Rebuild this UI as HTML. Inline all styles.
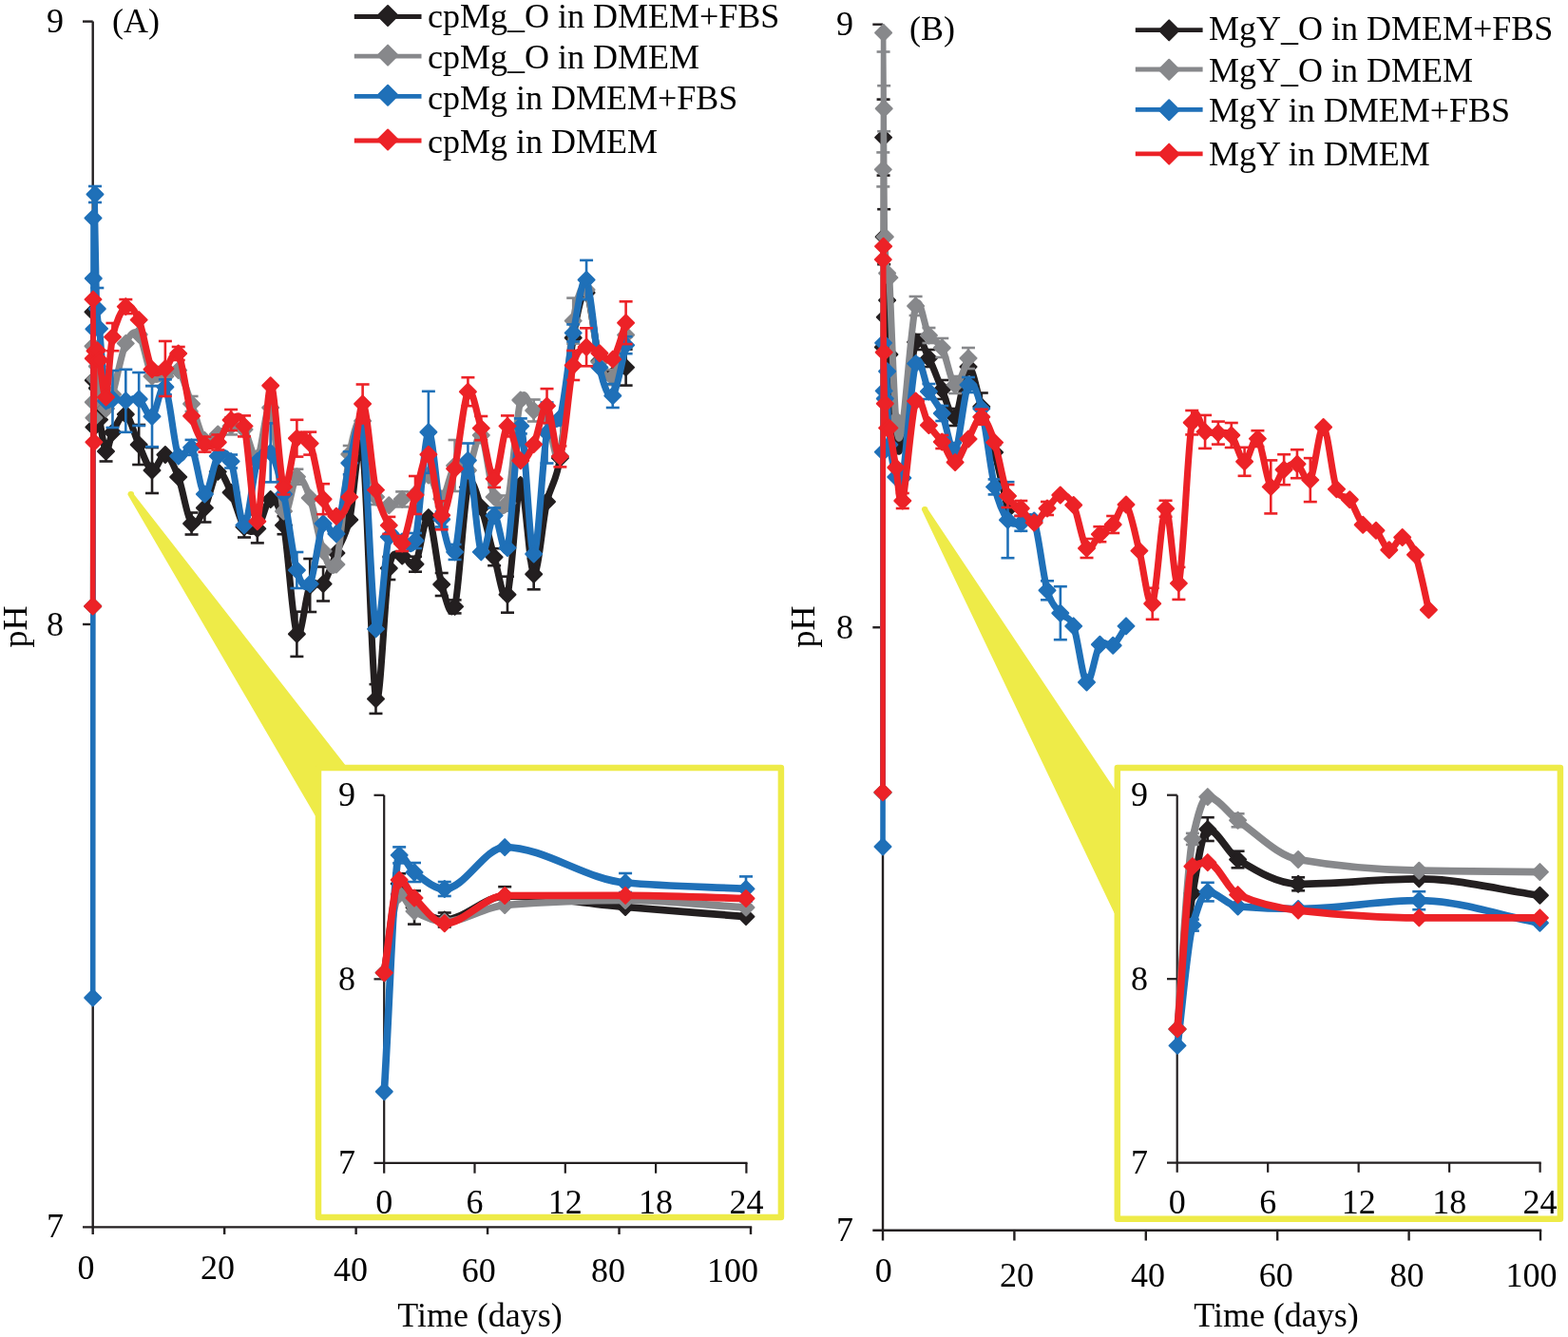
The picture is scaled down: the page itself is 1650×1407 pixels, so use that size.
<!DOCTYPE html>
<html><head><meta charset="utf-8"><title>pH vs time</title>
<style>html,body{margin:0;padding:0;background:#fff;width:1650px;height:1407px;overflow:hidden}
svg{display:block} text{font-family:"Liberation Serif", "Times New Roman", serif;fill:#000}</style></head>
<body><svg width="1650" height="1407" viewBox="0 0 1650 1407">
<line x1="97.7" y1="22.6" x2="97.7" y2="1291.4" stroke="#231f20" stroke-width="2.4" stroke-linecap="butt"/>
<line x1="87" y1="1291.4" x2="791.2" y2="1291.4" stroke="#231f20" stroke-width="2.4" stroke-linecap="butt"/>
<line x1="87" y1="22.6" x2="97.7" y2="22.6" stroke="#231f20" stroke-width="2.4" stroke-linecap="butt"/>
<line x1="87" y1="657.0" x2="97.7" y2="657.0" stroke="#231f20" stroke-width="2.4" stroke-linecap="butt"/>
<line x1="97.7" y1="1291.4" x2="97.7" y2="1299" stroke="#231f20" stroke-width="2.4" stroke-linecap="butt"/>
<line x1="236.15999999999997" y1="1291.4" x2="236.15999999999997" y2="1299" stroke="#231f20" stroke-width="2.4" stroke-linecap="butt"/>
<line x1="374.61999999999995" y1="1291.4" x2="374.61999999999995" y2="1299" stroke="#231f20" stroke-width="2.4" stroke-linecap="butt"/>
<line x1="513.0799999999999" y1="1291.4" x2="513.0799999999999" y2="1299" stroke="#231f20" stroke-width="2.4" stroke-linecap="butt"/>
<line x1="651.54" y1="1291.4" x2="651.54" y2="1299" stroke="#231f20" stroke-width="2.4" stroke-linecap="butt"/>
<line x1="790.0" y1="1291.4" x2="790.0" y2="1299" stroke="#231f20" stroke-width="2.4" stroke-linecap="butt"/>
<text x="67" y="34" font-size="36" text-anchor="end" >9</text>
<text x="67" y="669" font-size="36" text-anchor="end" >8</text>
<text x="67" y="1302" font-size="36" text-anchor="end" >7</text>
<text x="90.5" y="1346" font-size="36" text-anchor="middle" >0</text>
<text x="229" y="1346" font-size="36" text-anchor="middle" >20</text>
<text x="369" y="1348.2" font-size="36" text-anchor="middle" >40</text>
<text x="503.7" y="1348.5" font-size="36" text-anchor="middle" >60</text>
<text x="640" y="1348.5" font-size="36" text-anchor="middle" >80</text>
<text x="771" y="1348.5" font-size="36" text-anchor="middle" >100</text>
<text x="505" y="1396" font-size="36" text-anchor="middle" >Time (days)</text>
<text transform="translate(28,659.5) rotate(-90)" text-anchor="middle" font-size="36">pH</text>
<text x="118" y="34" font-size="36" text-anchor="start" >(A)</text>
<line x1="372.8" y1="17.5" x2="443.5" y2="17.5" stroke="#231f20" stroke-width="4.8" stroke-linecap="butt"/>
<path d="M408.1 6.0L418.6 16.5L408.1 27.0L397.6 16.5Z" fill="#231f20" stroke="#231f20" stroke-width="2" stroke-linejoin="round"/>
<text x="450" y="29.1" font-size="36" text-anchor="start" >cpMg_O in DMEM+FBS</text>
<line x1="372.8" y1="59.1" x2="443.5" y2="59.1" stroke="#87888b" stroke-width="4.8" stroke-linecap="butt"/>
<path d="M408.1 47.6L418.6 58.1L408.1 68.6L397.6 58.1Z" fill="#87888b" stroke="#87888b" stroke-width="2" stroke-linejoin="round"/>
<text x="450" y="72.2" font-size="36" text-anchor="start" >cpMg_O in DMEM</text>
<line x1="372.8" y1="101.3" x2="443.5" y2="101.3" stroke="#1f70b8" stroke-width="4.8" stroke-linecap="butt"/>
<path d="M408.1 89.8L418.6 100.3L408.1 110.8L397.6 100.3Z" fill="#1f70b8" stroke="#1f70b8" stroke-width="2" stroke-linejoin="round"/>
<text x="450" y="115.4" font-size="36" text-anchor="start" >cpMg in DMEM+FBS</text>
<line x1="372.8" y1="148" x2="443.5" y2="148" stroke="#ec2227" stroke-width="4.8" stroke-linecap="butt"/>
<path d="M408.1 136.5L418.6 147.0L408.1 157.5L397.6 147.0Z" fill="#ec2227" stroke="#ec2227" stroke-width="2" stroke-linejoin="round"/>
<text x="450" y="160.5" font-size="36" text-anchor="start" >cpMg in DMEM</text>
<line x1="111.55" y1="464.5" x2="111.55" y2="485.5" stroke="#231f20" stroke-width="2.6" stroke-linecap="butt"/>
<line x1="104.55" y1="464.5" x2="118.55" y2="464.5" stroke="#231f20" stroke-width="2.6" stroke-linecap="butt"/>
<line x1="104.55" y1="485.5" x2="118.55" y2="485.5" stroke="#231f20" stroke-width="2.6" stroke-linecap="butt"/>
<line x1="146.175" y1="447" x2="146.175" y2="489" stroke="#231f20" stroke-width="2.6" stroke-linecap="butt"/>
<line x1="139.175" y1="447" x2="153.175" y2="447" stroke="#231f20" stroke-width="2.6" stroke-linecap="butt"/>
<line x1="139.175" y1="489" x2="153.175" y2="489" stroke="#231f20" stroke-width="2.6" stroke-linecap="butt"/>
<line x1="160.025" y1="471" x2="160.025" y2="519" stroke="#231f20" stroke-width="2.6" stroke-linecap="butt"/>
<line x1="153.025" y1="471" x2="167.025" y2="471" stroke="#231f20" stroke-width="2.6" stroke-linecap="butt"/>
<line x1="153.025" y1="519" x2="167.025" y2="519" stroke="#231f20" stroke-width="2.6" stroke-linecap="butt"/>
<line x1="201.575" y1="539.5" x2="201.575" y2="562.5" stroke="#231f20" stroke-width="2.6" stroke-linecap="butt"/>
<line x1="194.575" y1="539.5" x2="208.575" y2="539.5" stroke="#231f20" stroke-width="2.6" stroke-linecap="butt"/>
<line x1="194.575" y1="562.5" x2="208.575" y2="562.5" stroke="#231f20" stroke-width="2.6" stroke-linecap="butt"/>
<line x1="215.425" y1="519.5" x2="215.425" y2="549.5" stroke="#231f20" stroke-width="2.6" stroke-linecap="butt"/>
<line x1="208.425" y1="519.5" x2="222.425" y2="519.5" stroke="#231f20" stroke-width="2.6" stroke-linecap="butt"/>
<line x1="208.425" y1="549.5" x2="222.425" y2="549.5" stroke="#231f20" stroke-width="2.6" stroke-linecap="butt"/>
<line x1="256.975" y1="543.5" x2="256.975" y2="565.5" stroke="#231f20" stroke-width="2.6" stroke-linecap="butt"/>
<line x1="249.97500000000002" y1="543.5" x2="263.975" y2="543.5" stroke="#231f20" stroke-width="2.6" stroke-linecap="butt"/>
<line x1="249.97500000000002" y1="565.5" x2="263.975" y2="565.5" stroke="#231f20" stroke-width="2.6" stroke-linecap="butt"/>
<line x1="270.825" y1="541.4" x2="270.825" y2="571.4" stroke="#231f20" stroke-width="2.6" stroke-linecap="butt"/>
<line x1="263.825" y1="541.4" x2="277.825" y2="541.4" stroke="#231f20" stroke-width="2.6" stroke-linecap="butt"/>
<line x1="263.825" y1="571.4" x2="277.825" y2="571.4" stroke="#231f20" stroke-width="2.6" stroke-linecap="butt"/>
<line x1="298.525" y1="543.2" x2="298.525" y2="562.2" stroke="#231f20" stroke-width="2.6" stroke-linecap="butt"/>
<line x1="291.525" y1="543.2" x2="305.525" y2="543.2" stroke="#231f20" stroke-width="2.6" stroke-linecap="butt"/>
<line x1="291.525" y1="562.2" x2="305.525" y2="562.2" stroke="#231f20" stroke-width="2.6" stroke-linecap="butt"/>
<line x1="326.225" y1="588" x2="326.225" y2="644" stroke="#231f20" stroke-width="2.6" stroke-linecap="butt"/>
<line x1="319.225" y1="588" x2="333.225" y2="588" stroke="#231f20" stroke-width="2.6" stroke-linecap="butt"/>
<line x1="319.225" y1="644" x2="333.225" y2="644" stroke="#231f20" stroke-width="2.6" stroke-linecap="butt"/>
<line x1="340.075" y1="596.5" x2="340.075" y2="632.5" stroke="#231f20" stroke-width="2.6" stroke-linecap="butt"/>
<line x1="333.075" y1="596.5" x2="347.075" y2="596.5" stroke="#231f20" stroke-width="2.6" stroke-linecap="butt"/>
<line x1="333.075" y1="632.5" x2="347.075" y2="632.5" stroke="#231f20" stroke-width="2.6" stroke-linecap="butt"/>
<line x1="312.375" y1="643.6999999999999" x2="312.375" y2="690.9" stroke="#231f20" stroke-width="2.6" stroke-linecap="butt"/>
<line x1="305.375" y1="643.6999999999999" x2="319.375" y2="643.6999999999999" stroke="#231f20" stroke-width="2.6" stroke-linecap="butt"/>
<line x1="305.375" y1="690.9" x2="319.375" y2="690.9" stroke="#231f20" stroke-width="2.6" stroke-linecap="butt"/>
<line x1="395.47499999999997" y1="720.1" x2="395.47499999999997" y2="750.9" stroke="#231f20" stroke-width="2.6" stroke-linecap="butt"/>
<line x1="388.47499999999997" y1="720.1" x2="402.47499999999997" y2="720.1" stroke="#231f20" stroke-width="2.6" stroke-linecap="butt"/>
<line x1="388.47499999999997" y1="750.9" x2="402.47499999999997" y2="750.9" stroke="#231f20" stroke-width="2.6" stroke-linecap="butt"/>
<line x1="478.575" y1="631.4" x2="478.575" y2="645.4" stroke="#231f20" stroke-width="2.6" stroke-linecap="butt"/>
<line x1="471.575" y1="631.4" x2="485.575" y2="631.4" stroke="#231f20" stroke-width="2.6" stroke-linecap="butt"/>
<line x1="471.575" y1="645.4" x2="485.575" y2="645.4" stroke="#231f20" stroke-width="2.6" stroke-linecap="butt"/>
<line x1="533.975" y1="606.7" x2="533.975" y2="644.7" stroke="#231f20" stroke-width="2.6" stroke-linecap="butt"/>
<line x1="526.975" y1="606.7" x2="540.975" y2="606.7" stroke="#231f20" stroke-width="2.6" stroke-linecap="butt"/>
<line x1="526.975" y1="644.7" x2="540.975" y2="644.7" stroke="#231f20" stroke-width="2.6" stroke-linecap="butt"/>
<line x1="561.675" y1="588.3" x2="561.675" y2="620.3" stroke="#231f20" stroke-width="2.6" stroke-linecap="butt"/>
<line x1="554.675" y1="588.3" x2="568.675" y2="588.3" stroke="#231f20" stroke-width="2.6" stroke-linecap="butt"/>
<line x1="554.675" y1="620.3" x2="568.675" y2="620.3" stroke="#231f20" stroke-width="2.6" stroke-linecap="butt"/>
<line x1="658.625" y1="367.6" x2="658.625" y2="405.6" stroke="#231f20" stroke-width="2.6" stroke-linecap="butt"/>
<line x1="651.625" y1="367.6" x2="665.625" y2="367.6" stroke="#231f20" stroke-width="2.6" stroke-linecap="butt"/>
<line x1="651.625" y1="405.6" x2="665.625" y2="405.6" stroke="#231f20" stroke-width="2.6" stroke-linecap="butt"/>
<line x1="409.325" y1="586" x2="409.325" y2="610" stroke="#231f20" stroke-width="2.6" stroke-linecap="butt"/>
<line x1="402.325" y1="586" x2="416.325" y2="586" stroke="#231f20" stroke-width="2.6" stroke-linecap="butt"/>
<line x1="402.325" y1="610" x2="416.325" y2="610" stroke="#231f20" stroke-width="2.6" stroke-linecap="butt"/>
<line x1="437.025" y1="585.7" x2="437.025" y2="601.7" stroke="#231f20" stroke-width="2.6" stroke-linecap="butt"/>
<line x1="430.025" y1="585.7" x2="444.025" y2="585.7" stroke="#231f20" stroke-width="2.6" stroke-linecap="butt"/>
<line x1="430.025" y1="601.7" x2="444.025" y2="601.7" stroke="#231f20" stroke-width="2.6" stroke-linecap="butt"/>
<line x1="464.72499999999997" y1="603" x2="464.72499999999997" y2="627" stroke="#231f20" stroke-width="2.6" stroke-linecap="butt"/>
<line x1="457.72499999999997" y1="603" x2="471.72499999999997" y2="603" stroke="#231f20" stroke-width="2.6" stroke-linecap="butt"/>
<line x1="457.72499999999997" y1="627" x2="471.72499999999997" y2="627" stroke="#231f20" stroke-width="2.6" stroke-linecap="butt"/>
<line x1="520.125" y1="577.2" x2="520.125" y2="595.2" stroke="#231f20" stroke-width="2.6" stroke-linecap="butt"/>
<line x1="513.125" y1="577.2" x2="527.125" y2="577.2" stroke="#231f20" stroke-width="2.6" stroke-linecap="butt"/>
<line x1="513.125" y1="595.2" x2="527.125" y2="595.2" stroke="#231f20" stroke-width="2.6" stroke-linecap="butt"/>
<path d="M97.7 638.0L98.0 328.2M98.0 328.2L98.3 400.3M98.3 400.3L98.9 449.5M98.9 449.5L100.0 377.4M100.0 377.4L102.3 408.5M102.3 408.5L104.6 441.6" fill="none" stroke="#231f20" stroke-width="5.6" stroke-linejoin="round" stroke-linecap="round"/>
<path d="M104.6 441.6C106.7 451.6 109.3 472.9 111.5 475.0C113.8 477.1 115.2 461.2 118.5 455.0C121.8 448.8 127.9 433.9 132.3 436.0C136.8 438.1 141.7 458.6 146.2 468.0C150.6 477.4 155.6 493.3 160.0 495.0C164.5 496.7 169.4 477.4 173.9 478.5C178.3 479.6 183.3 490.4 187.7 502.0C192.2 513.6 197.1 545.8 201.6 551.0C206.0 556.2 211.0 543.2 215.4 534.5C219.9 525.8 224.8 499.0 229.3 496.4C233.7 493.8 238.7 508.9 243.1 518.2C247.6 527.5 252.5 548.4 257.0 554.5C261.4 560.6 266.4 561.0 270.8 556.4C275.3 551.8 280.2 526.1 284.7 525.5C289.1 524.9 294.1 530.0 298.5 552.7C303.0 575.4 307.9 657.2 312.4 667.3C316.8 677.4 321.8 624.4 326.2 616.0C330.7 607.6 335.6 619.9 340.1 614.5C344.5 609.1 349.5 592.8 353.9 582.0C358.4 571.2 363.3 564.6 367.8 547.0C372.2 529.4 377.2 441.8 381.6 472.0C386.1 502.2 391.0 715.3 395.5 735.5C399.9 755.7 404.9 622.1 409.3 598.0C413.8 573.9 418.7 585.7 423.2 585.0C427.6 584.3 432.6 600.2 437.0 593.7C441.5 587.2 446.4 541.2 450.9 544.6C455.3 548.0 460.3 600.0 464.7 615.0C469.2 630.0 474.1 654.8 478.6 638.4C483.0 622.0 488.0 529.3 492.4 512.6C496.9 495.9 501.8 522.2 506.3 534.0C510.7 545.8 515.7 571.5 520.1 586.2C524.6 600.9 529.5 637.8 534.0 625.7C538.4 613.6 543.4 513.9 547.8 510.5C552.3 507.1 557.2 601.5 561.7 604.3C566.1 607.1 571.1 547.6 575.5 528.0C580.0 508.4 584.9 509.6 589.4 482.0C593.8 454.4 598.8 383.3 603.2 355.5C607.7 327.7 612.6 304.1 617.1 308.0C621.5 311.9 626.5 366.1 630.9 380.0C635.4 393.9 640.3 393.9 644.8 395.0C649.2 396.1 656.4 387.9 658.6 386.6" fill="none" stroke="#231f20" stroke-width="7.1" stroke-linejoin="round" stroke-linecap="round"/>
<path d="M97.7 629.5L106.2 638.0L97.7 646.5L89.2 638.0Z" fill="#231f20" stroke="#231f20" stroke-width="2" stroke-linejoin="round"/>
<path d="M98.0 319.7L106.5 328.2L98.0 336.7L89.5 328.2Z" fill="#231f20" stroke="#231f20" stroke-width="2" stroke-linejoin="round"/>
<path d="M98.3 391.8L106.8 400.3L98.3 408.8L89.8 400.3Z" fill="#231f20" stroke="#231f20" stroke-width="2" stroke-linejoin="round"/>
<path d="M98.9 441.0L107.4 449.5L98.9 458.0L90.4 449.5Z" fill="#231f20" stroke="#231f20" stroke-width="2" stroke-linejoin="round"/>
<path d="M100.0 368.9L108.5 377.4L100.0 385.9L91.5 377.4Z" fill="#231f20" stroke="#231f20" stroke-width="2" stroke-linejoin="round"/>
<path d="M102.3 400.0L110.8 408.5L102.3 417.0L93.8 408.5Z" fill="#231f20" stroke="#231f20" stroke-width="2" stroke-linejoin="round"/>
<path d="M104.6 433.1L113.1 441.6L104.6 450.1L96.1 441.6Z" fill="#231f20" stroke="#231f20" stroke-width="2" stroke-linejoin="round"/>
<path d="M111.5 466.5L120.0 475.0L111.5 483.5L103.0 475.0Z" fill="#231f20" stroke="#231f20" stroke-width="2" stroke-linejoin="round"/>
<path d="M118.5 446.5L127.0 455.0L118.5 463.5L110.0 455.0Z" fill="#231f20" stroke="#231f20" stroke-width="2" stroke-linejoin="round"/>
<path d="M132.3 427.5L140.8 436.0L132.3 444.5L123.8 436.0Z" fill="#231f20" stroke="#231f20" stroke-width="2" stroke-linejoin="round"/>
<path d="M146.2 459.5L154.7 468.0L146.2 476.5L137.7 468.0Z" fill="#231f20" stroke="#231f20" stroke-width="2" stroke-linejoin="round"/>
<path d="M160.0 486.5L168.5 495.0L160.0 503.5L151.5 495.0Z" fill="#231f20" stroke="#231f20" stroke-width="2" stroke-linejoin="round"/>
<path d="M173.9 470.0L182.4 478.5L173.9 487.0L165.4 478.5Z" fill="#231f20" stroke="#231f20" stroke-width="2" stroke-linejoin="round"/>
<path d="M187.7 493.5L196.2 502.0L187.7 510.5L179.2 502.0Z" fill="#231f20" stroke="#231f20" stroke-width="2" stroke-linejoin="round"/>
<path d="M201.6 542.5L210.1 551.0L201.6 559.5L193.1 551.0Z" fill="#231f20" stroke="#231f20" stroke-width="2" stroke-linejoin="round"/>
<path d="M215.4 526.0L223.9 534.5L215.4 543.0L206.9 534.5Z" fill="#231f20" stroke="#231f20" stroke-width="2" stroke-linejoin="round"/>
<path d="M229.3 487.9L237.8 496.4L229.3 504.9L220.8 496.4Z" fill="#231f20" stroke="#231f20" stroke-width="2" stroke-linejoin="round"/>
<path d="M243.1 509.7L251.6 518.2L243.1 526.7L234.6 518.2Z" fill="#231f20" stroke="#231f20" stroke-width="2" stroke-linejoin="round"/>
<path d="M257.0 546.0L265.5 554.5L257.0 563.0L248.5 554.5Z" fill="#231f20" stroke="#231f20" stroke-width="2" stroke-linejoin="round"/>
<path d="M270.8 547.9L279.3 556.4L270.8 564.9L262.3 556.4Z" fill="#231f20" stroke="#231f20" stroke-width="2" stroke-linejoin="round"/>
<path d="M284.7 517.0L293.2 525.5L284.7 534.0L276.2 525.5Z" fill="#231f20" stroke="#231f20" stroke-width="2" stroke-linejoin="round"/>
<path d="M298.5 544.2L307.0 552.7L298.5 561.2L290.0 552.7Z" fill="#231f20" stroke="#231f20" stroke-width="2" stroke-linejoin="round"/>
<path d="M312.4 658.8L320.9 667.3L312.4 675.8L303.9 667.3Z" fill="#231f20" stroke="#231f20" stroke-width="2" stroke-linejoin="round"/>
<path d="M326.2 607.5L334.7 616.0L326.2 624.5L317.7 616.0Z" fill="#231f20" stroke="#231f20" stroke-width="2" stroke-linejoin="round"/>
<path d="M340.1 606.0L348.6 614.5L340.1 623.0L331.6 614.5Z" fill="#231f20" stroke="#231f20" stroke-width="2" stroke-linejoin="round"/>
<path d="M353.9 573.5L362.4 582.0L353.9 590.5L345.4 582.0Z" fill="#231f20" stroke="#231f20" stroke-width="2" stroke-linejoin="round"/>
<path d="M367.8 538.5L376.3 547.0L367.8 555.5L359.3 547.0Z" fill="#231f20" stroke="#231f20" stroke-width="2" stroke-linejoin="round"/>
<path d="M381.6 463.5L390.1 472.0L381.6 480.5L373.1 472.0Z" fill="#231f20" stroke="#231f20" stroke-width="2" stroke-linejoin="round"/>
<path d="M395.5 727.0L404.0 735.5L395.5 744.0L387.0 735.5Z" fill="#231f20" stroke="#231f20" stroke-width="2" stroke-linejoin="round"/>
<path d="M409.3 589.5L417.8 598.0L409.3 606.5L400.8 598.0Z" fill="#231f20" stroke="#231f20" stroke-width="2" stroke-linejoin="round"/>
<path d="M423.2 576.5L431.7 585.0L423.2 593.5L414.7 585.0Z" fill="#231f20" stroke="#231f20" stroke-width="2" stroke-linejoin="round"/>
<path d="M437.0 585.2L445.5 593.7L437.0 602.2L428.5 593.7Z" fill="#231f20" stroke="#231f20" stroke-width="2" stroke-linejoin="round"/>
<path d="M450.9 536.1L459.4 544.6L450.9 553.1L442.4 544.6Z" fill="#231f20" stroke="#231f20" stroke-width="2" stroke-linejoin="round"/>
<path d="M464.7 606.5L473.2 615.0L464.7 623.5L456.2 615.0Z" fill="#231f20" stroke="#231f20" stroke-width="2" stroke-linejoin="round"/>
<path d="M478.6 629.9L487.1 638.4L478.6 646.9L470.1 638.4Z" fill="#231f20" stroke="#231f20" stroke-width="2" stroke-linejoin="round"/>
<path d="M492.4 504.1L500.9 512.6L492.4 521.1L483.9 512.6Z" fill="#231f20" stroke="#231f20" stroke-width="2" stroke-linejoin="round"/>
<path d="M506.3 525.5L514.8 534.0L506.3 542.5L497.8 534.0Z" fill="#231f20" stroke="#231f20" stroke-width="2" stroke-linejoin="round"/>
<path d="M520.1 577.7L528.6 586.2L520.1 594.7L511.6 586.2Z" fill="#231f20" stroke="#231f20" stroke-width="2" stroke-linejoin="round"/>
<path d="M534.0 617.2L542.5 625.7L534.0 634.2L525.5 625.7Z" fill="#231f20" stroke="#231f20" stroke-width="2" stroke-linejoin="round"/>
<path d="M547.8 502.0L556.3 510.5L547.8 519.0L539.3 510.5Z" fill="#231f20" stroke="#231f20" stroke-width="2" stroke-linejoin="round"/>
<path d="M561.7 595.8L570.2 604.3L561.7 612.8L553.2 604.3Z" fill="#231f20" stroke="#231f20" stroke-width="2" stroke-linejoin="round"/>
<path d="M575.5 519.5L584.0 528.0L575.5 536.5L567.0 528.0Z" fill="#231f20" stroke="#231f20" stroke-width="2" stroke-linejoin="round"/>
<path d="M589.4 473.5L597.9 482.0L589.4 490.5L580.9 482.0Z" fill="#231f20" stroke="#231f20" stroke-width="2" stroke-linejoin="round"/>
<path d="M603.2 347.0L611.7 355.5L603.2 364.0L594.7 355.5Z" fill="#231f20" stroke="#231f20" stroke-width="2" stroke-linejoin="round"/>
<path d="M617.1 299.5L625.6 308.0L617.1 316.5L608.6 308.0Z" fill="#231f20" stroke="#231f20" stroke-width="2" stroke-linejoin="round"/>
<path d="M630.9 371.5L639.4 380.0L630.9 388.5L622.4 380.0Z" fill="#231f20" stroke="#231f20" stroke-width="2" stroke-linejoin="round"/>
<path d="M644.8 386.5L653.3 395.0L644.8 403.5L636.3 395.0Z" fill="#231f20" stroke="#231f20" stroke-width="2" stroke-linejoin="round"/>
<path d="M658.6 378.1L667.1 386.6L658.6 395.1L650.1 386.6Z" fill="#231f20" stroke="#231f20" stroke-width="2" stroke-linejoin="round"/>
<line x1="312.375" y1="493.7" x2="312.375" y2="509.7" stroke="#87888b" stroke-width="2.6" stroke-linecap="butt"/>
<line x1="305.375" y1="493.7" x2="319.375" y2="493.7" stroke="#87888b" stroke-width="2.6" stroke-linecap="butt"/>
<line x1="305.375" y1="509.7" x2="319.375" y2="509.7" stroke="#87888b" stroke-width="2.6" stroke-linecap="butt"/>
<line x1="603.225" y1="313.6" x2="603.225" y2="361.6" stroke="#87888b" stroke-width="2.6" stroke-linecap="butt"/>
<line x1="596.225" y1="313.6" x2="610.225" y2="313.6" stroke="#87888b" stroke-width="2.6" stroke-linecap="butt"/>
<line x1="596.225" y1="361.6" x2="610.225" y2="361.6" stroke="#87888b" stroke-width="2.6" stroke-linecap="butt"/>
<line x1="561.675" y1="420.5" x2="561.675" y2="443.5" stroke="#87888b" stroke-width="2.6" stroke-linecap="butt"/>
<line x1="554.675" y1="420.5" x2="568.675" y2="420.5" stroke="#87888b" stroke-width="2.6" stroke-linecap="butt"/>
<line x1="554.675" y1="443.5" x2="568.675" y2="443.5" stroke="#87888b" stroke-width="2.6" stroke-linecap="butt"/>
<line x1="478.575" y1="463" x2="478.575" y2="517" stroke="#87888b" stroke-width="2.6" stroke-linecap="butt"/>
<line x1="471.575" y1="463" x2="485.575" y2="463" stroke="#87888b" stroke-width="2.6" stroke-linecap="butt"/>
<line x1="471.575" y1="517" x2="485.575" y2="517" stroke="#87888b" stroke-width="2.6" stroke-linecap="butt"/>
<line x1="506.275" y1="450" x2="506.275" y2="466" stroke="#87888b" stroke-width="2.6" stroke-linecap="butt"/>
<line x1="499.275" y1="450" x2="513.275" y2="450" stroke="#87888b" stroke-width="2.6" stroke-linecap="butt"/>
<line x1="499.275" y1="466" x2="513.275" y2="466" stroke="#87888b" stroke-width="2.6" stroke-linecap="butt"/>
<line x1="160.025" y1="386" x2="160.025" y2="406" stroke="#87888b" stroke-width="2.6" stroke-linecap="butt"/>
<line x1="153.025" y1="386" x2="167.025" y2="386" stroke="#87888b" stroke-width="2.6" stroke-linecap="butt"/>
<line x1="153.025" y1="406" x2="167.025" y2="406" stroke="#87888b" stroke-width="2.6" stroke-linecap="butt"/>
<line x1="201.575" y1="417" x2="201.575" y2="433" stroke="#87888b" stroke-width="2.6" stroke-linecap="butt"/>
<line x1="194.575" y1="417" x2="208.575" y2="417" stroke="#87888b" stroke-width="2.6" stroke-linecap="butt"/>
<line x1="194.575" y1="433" x2="208.575" y2="433" stroke="#87888b" stroke-width="2.6" stroke-linecap="butt"/>
<line x1="243.125" y1="439.4" x2="243.125" y2="457.4" stroke="#87888b" stroke-width="2.6" stroke-linecap="butt"/>
<line x1="236.125" y1="439.4" x2="250.125" y2="439.4" stroke="#87888b" stroke-width="2.6" stroke-linecap="butt"/>
<line x1="236.125" y1="457.4" x2="250.125" y2="457.4" stroke="#87888b" stroke-width="2.6" stroke-linecap="butt"/>
<line x1="367.775" y1="469" x2="367.775" y2="487" stroke="#87888b" stroke-width="2.6" stroke-linecap="butt"/>
<line x1="360.775" y1="469" x2="374.775" y2="469" stroke="#87888b" stroke-width="2.6" stroke-linecap="butt"/>
<line x1="360.775" y1="487" x2="374.775" y2="487" stroke="#87888b" stroke-width="2.6" stroke-linecap="butt"/>
<line x1="395.47499999999997" y1="515" x2="395.47499999999997" y2="531" stroke="#87888b" stroke-width="2.6" stroke-linecap="butt"/>
<line x1="388.47499999999997" y1="515" x2="402.47499999999997" y2="515" stroke="#87888b" stroke-width="2.6" stroke-linecap="butt"/>
<line x1="388.47499999999997" y1="531" x2="402.47499999999997" y2="531" stroke="#87888b" stroke-width="2.6" stroke-linecap="butt"/>
<line x1="423.17499999999995" y1="517.4" x2="423.17499999999995" y2="533.4" stroke="#87888b" stroke-width="2.6" stroke-linecap="butt"/>
<line x1="416.17499999999995" y1="517.4" x2="430.17499999999995" y2="517.4" stroke="#87888b" stroke-width="2.6" stroke-linecap="butt"/>
<line x1="416.17499999999995" y1="533.4" x2="430.17499999999995" y2="533.4" stroke="#87888b" stroke-width="2.6" stroke-linecap="butt"/>
<line x1="464.72499999999997" y1="517" x2="464.72499999999997" y2="533" stroke="#87888b" stroke-width="2.6" stroke-linecap="butt"/>
<line x1="457.72499999999997" y1="517" x2="471.72499999999997" y2="517" stroke="#87888b" stroke-width="2.6" stroke-linecap="butt"/>
<line x1="457.72499999999997" y1="533" x2="471.72499999999997" y2="533" stroke="#87888b" stroke-width="2.6" stroke-linecap="butt"/>
<line x1="533.975" y1="521.5" x2="533.975" y2="537.5" stroke="#87888b" stroke-width="2.6" stroke-linecap="butt"/>
<line x1="526.975" y1="521.5" x2="540.975" y2="521.5" stroke="#87888b" stroke-width="2.6" stroke-linecap="butt"/>
<line x1="526.975" y1="537.5" x2="540.975" y2="537.5" stroke="#87888b" stroke-width="2.6" stroke-linecap="butt"/>
<line x1="617.075" y1="296" x2="617.075" y2="314" stroke="#87888b" stroke-width="2.6" stroke-linecap="butt"/>
<line x1="610.075" y1="296" x2="624.075" y2="296" stroke="#87888b" stroke-width="2.6" stroke-linecap="butt"/>
<line x1="610.075" y1="314" x2="624.075" y2="314" stroke="#87888b" stroke-width="2.6" stroke-linecap="butt"/>
<line x1="644.775" y1="389" x2="644.775" y2="405" stroke="#87888b" stroke-width="2.6" stroke-linecap="butt"/>
<line x1="637.775" y1="389" x2="651.775" y2="389" stroke="#87888b" stroke-width="2.6" stroke-linecap="butt"/>
<line x1="637.775" y1="405" x2="651.775" y2="405" stroke="#87888b" stroke-width="2.6" stroke-linecap="butt"/>
<path d="M97.7 638.0L98.0 364.2M98.0 364.2L98.3 423.3M98.3 423.3L98.9 439.7M98.9 439.7L100.0 398.7M100.0 398.7L102.3 385.5M102.3 385.5L104.6 410.1" fill="none" stroke="#87888b" stroke-width="5.6" stroke-linejoin="round" stroke-linecap="round"/>
<path d="M104.6 410.1C106.7 416.1 109.3 429.2 111.5 430.0C113.8 430.8 115.2 426.0 118.5 415.0C121.8 404.0 127.9 371.5 132.3 361.4C136.8 351.3 141.7 346.5 146.2 352.0C150.6 357.5 155.6 389.0 160.0 396.0C164.5 403.0 169.4 397.0 173.9 396.0C178.3 395.0 183.3 385.0 187.7 389.6C192.2 394.2 197.1 413.2 201.6 425.0C206.0 436.8 211.0 458.3 215.4 463.4C219.9 468.5 224.8 459.4 229.3 457.0C233.7 454.6 238.7 449.2 243.1 448.4C247.6 447.6 252.5 446.6 257.0 452.0C261.4 457.4 266.4 485.7 270.8 482.0C275.3 478.3 280.2 420.0 284.7 429.0C289.1 438.0 294.1 526.4 298.5 538.0C303.0 549.6 307.9 503.9 312.4 501.7C316.8 499.5 321.8 511.5 326.2 524.0C330.7 536.5 335.6 568.8 340.1 580.0C344.5 591.2 349.5 610.3 353.9 594.0C358.4 577.7 363.3 502.2 367.8 478.0C372.2 453.8 377.2 435.8 381.6 443.0C386.1 450.2 391.0 508.8 395.5 523.0C399.9 537.2 404.9 531.4 409.3 531.8C413.8 532.2 418.7 527.3 423.2 525.4C427.6 523.5 432.6 524.1 437.0 520.0C441.5 515.9 446.4 499.2 450.9 500.0C455.3 500.8 460.3 526.6 464.7 525.0C469.2 523.4 474.1 494.8 478.6 490.0C483.0 485.2 488.0 500.1 492.4 495.0C496.9 489.9 501.8 453.5 506.3 458.0C510.7 462.5 515.7 511.6 520.1 523.0C524.6 534.4 529.5 545.8 534.0 529.5C538.4 513.2 543.4 436.6 547.8 421.0C552.3 405.4 557.2 429.0 561.7 432.0C566.1 435.0 571.1 432.3 575.5 440.0C580.0 447.7 584.9 496.4 589.4 480.0C593.8 463.6 598.8 365.6 603.2 337.6C607.7 309.6 612.6 298.1 617.1 305.0C621.5 311.9 626.5 366.3 630.9 381.0C635.4 395.7 640.3 401.6 644.8 397.0C649.2 392.4 656.4 359.6 658.6 352.5" fill="none" stroke="#87888b" stroke-width="7.1" stroke-linejoin="round" stroke-linecap="round"/>
<path d="M97.7 629.5L106.2 638.0L97.7 646.5L89.2 638.0Z" fill="#87888b" stroke="#87888b" stroke-width="2" stroke-linejoin="round"/>
<path d="M98.0 355.7L106.5 364.2L98.0 372.7L89.5 364.2Z" fill="#87888b" stroke="#87888b" stroke-width="2" stroke-linejoin="round"/>
<path d="M98.3 414.8L106.8 423.3L98.3 431.8L89.8 423.3Z" fill="#87888b" stroke="#87888b" stroke-width="2" stroke-linejoin="round"/>
<path d="M98.9 431.2L107.4 439.7L98.9 448.2L90.4 439.7Z" fill="#87888b" stroke="#87888b" stroke-width="2" stroke-linejoin="round"/>
<path d="M100.0 390.2L108.5 398.7L100.0 407.2L91.5 398.7Z" fill="#87888b" stroke="#87888b" stroke-width="2" stroke-linejoin="round"/>
<path d="M102.3 377.0L110.8 385.5L102.3 394.0L93.8 385.5Z" fill="#87888b" stroke="#87888b" stroke-width="2" stroke-linejoin="round"/>
<path d="M104.6 401.6L113.1 410.1L104.6 418.6L96.1 410.1Z" fill="#87888b" stroke="#87888b" stroke-width="2" stroke-linejoin="round"/>
<path d="M111.5 421.5L120.0 430.0L111.5 438.5L103.0 430.0Z" fill="#87888b" stroke="#87888b" stroke-width="2" stroke-linejoin="round"/>
<path d="M118.5 406.5L127.0 415.0L118.5 423.5L110.0 415.0Z" fill="#87888b" stroke="#87888b" stroke-width="2" stroke-linejoin="round"/>
<path d="M132.3 352.9L140.8 361.4L132.3 369.9L123.8 361.4Z" fill="#87888b" stroke="#87888b" stroke-width="2" stroke-linejoin="round"/>
<path d="M146.2 343.5L154.7 352.0L146.2 360.5L137.7 352.0Z" fill="#87888b" stroke="#87888b" stroke-width="2" stroke-linejoin="round"/>
<path d="M160.0 387.5L168.5 396.0L160.0 404.5L151.5 396.0Z" fill="#87888b" stroke="#87888b" stroke-width="2" stroke-linejoin="round"/>
<path d="M173.9 387.5L182.4 396.0L173.9 404.5L165.4 396.0Z" fill="#87888b" stroke="#87888b" stroke-width="2" stroke-linejoin="round"/>
<path d="M187.7 381.1L196.2 389.6L187.7 398.1L179.2 389.6Z" fill="#87888b" stroke="#87888b" stroke-width="2" stroke-linejoin="round"/>
<path d="M201.6 416.5L210.1 425.0L201.6 433.5L193.1 425.0Z" fill="#87888b" stroke="#87888b" stroke-width="2" stroke-linejoin="round"/>
<path d="M215.4 454.9L223.9 463.4L215.4 471.9L206.9 463.4Z" fill="#87888b" stroke="#87888b" stroke-width="2" stroke-linejoin="round"/>
<path d="M229.3 448.5L237.8 457.0L229.3 465.5L220.8 457.0Z" fill="#87888b" stroke="#87888b" stroke-width="2" stroke-linejoin="round"/>
<path d="M243.1 439.9L251.6 448.4L243.1 456.9L234.6 448.4Z" fill="#87888b" stroke="#87888b" stroke-width="2" stroke-linejoin="round"/>
<path d="M257.0 443.5L265.5 452.0L257.0 460.5L248.5 452.0Z" fill="#87888b" stroke="#87888b" stroke-width="2" stroke-linejoin="round"/>
<path d="M270.8 473.5L279.3 482.0L270.8 490.5L262.3 482.0Z" fill="#87888b" stroke="#87888b" stroke-width="2" stroke-linejoin="round"/>
<path d="M284.7 420.5L293.2 429.0L284.7 437.5L276.2 429.0Z" fill="#87888b" stroke="#87888b" stroke-width="2" stroke-linejoin="round"/>
<path d="M298.5 529.5L307.0 538.0L298.5 546.5L290.0 538.0Z" fill="#87888b" stroke="#87888b" stroke-width="2" stroke-linejoin="round"/>
<path d="M312.4 493.2L320.9 501.7L312.4 510.2L303.9 501.7Z" fill="#87888b" stroke="#87888b" stroke-width="2" stroke-linejoin="round"/>
<path d="M326.2 515.5L334.7 524.0L326.2 532.5L317.7 524.0Z" fill="#87888b" stroke="#87888b" stroke-width="2" stroke-linejoin="round"/>
<path d="M340.1 571.5L348.6 580.0L340.1 588.5L331.6 580.0Z" fill="#87888b" stroke="#87888b" stroke-width="2" stroke-linejoin="round"/>
<path d="M353.9 585.5L362.4 594.0L353.9 602.5L345.4 594.0Z" fill="#87888b" stroke="#87888b" stroke-width="2" stroke-linejoin="round"/>
<path d="M367.8 469.5L376.3 478.0L367.8 486.5L359.3 478.0Z" fill="#87888b" stroke="#87888b" stroke-width="2" stroke-linejoin="round"/>
<path d="M381.6 434.5L390.1 443.0L381.6 451.5L373.1 443.0Z" fill="#87888b" stroke="#87888b" stroke-width="2" stroke-linejoin="round"/>
<path d="M395.5 514.5L404.0 523.0L395.5 531.5L387.0 523.0Z" fill="#87888b" stroke="#87888b" stroke-width="2" stroke-linejoin="round"/>
<path d="M409.3 523.3L417.8 531.8L409.3 540.3L400.8 531.8Z" fill="#87888b" stroke="#87888b" stroke-width="2" stroke-linejoin="round"/>
<path d="M423.2 516.9L431.7 525.4L423.2 533.9L414.7 525.4Z" fill="#87888b" stroke="#87888b" stroke-width="2" stroke-linejoin="round"/>
<path d="M437.0 511.5L445.5 520.0L437.0 528.5L428.5 520.0Z" fill="#87888b" stroke="#87888b" stroke-width="2" stroke-linejoin="round"/>
<path d="M450.9 491.5L459.4 500.0L450.9 508.5L442.4 500.0Z" fill="#87888b" stroke="#87888b" stroke-width="2" stroke-linejoin="round"/>
<path d="M464.7 516.5L473.2 525.0L464.7 533.5L456.2 525.0Z" fill="#87888b" stroke="#87888b" stroke-width="2" stroke-linejoin="round"/>
<path d="M478.6 481.5L487.1 490.0L478.6 498.5L470.1 490.0Z" fill="#87888b" stroke="#87888b" stroke-width="2" stroke-linejoin="round"/>
<path d="M492.4 486.5L500.9 495.0L492.4 503.5L483.9 495.0Z" fill="#87888b" stroke="#87888b" stroke-width="2" stroke-linejoin="round"/>
<path d="M506.3 449.5L514.8 458.0L506.3 466.5L497.8 458.0Z" fill="#87888b" stroke="#87888b" stroke-width="2" stroke-linejoin="round"/>
<path d="M520.1 514.5L528.6 523.0L520.1 531.5L511.6 523.0Z" fill="#87888b" stroke="#87888b" stroke-width="2" stroke-linejoin="round"/>
<path d="M534.0 521.0L542.5 529.5L534.0 538.0L525.5 529.5Z" fill="#87888b" stroke="#87888b" stroke-width="2" stroke-linejoin="round"/>
<path d="M547.8 412.5L556.3 421.0L547.8 429.5L539.3 421.0Z" fill="#87888b" stroke="#87888b" stroke-width="2" stroke-linejoin="round"/>
<path d="M561.7 423.5L570.2 432.0L561.7 440.5L553.2 432.0Z" fill="#87888b" stroke="#87888b" stroke-width="2" stroke-linejoin="round"/>
<path d="M575.5 431.5L584.0 440.0L575.5 448.5L567.0 440.0Z" fill="#87888b" stroke="#87888b" stroke-width="2" stroke-linejoin="round"/>
<path d="M589.4 471.5L597.9 480.0L589.4 488.5L580.9 480.0Z" fill="#87888b" stroke="#87888b" stroke-width="2" stroke-linejoin="round"/>
<path d="M603.2 329.1L611.7 337.6L603.2 346.1L594.7 337.6Z" fill="#87888b" stroke="#87888b" stroke-width="2" stroke-linejoin="round"/>
<path d="M617.1 296.5L625.6 305.0L617.1 313.5L608.6 305.0Z" fill="#87888b" stroke="#87888b" stroke-width="2" stroke-linejoin="round"/>
<path d="M630.9 372.5L639.4 381.0L630.9 389.5L622.4 381.0Z" fill="#87888b" stroke="#87888b" stroke-width="2" stroke-linejoin="round"/>
<path d="M644.8 388.5L653.3 397.0L644.8 405.5L636.3 397.0Z" fill="#87888b" stroke="#87888b" stroke-width="2" stroke-linejoin="round"/>
<path d="M658.6 344.0L667.1 352.5L658.6 361.0L650.1 352.5Z" fill="#87888b" stroke="#87888b" stroke-width="2" stroke-linejoin="round"/>
<line x1="492.42499999999995" y1="466.5" x2="492.42499999999995" y2="502.5" stroke="#1f70b8" stroke-width="2.6" stroke-linecap="butt"/>
<line x1="485.42499999999995" y1="466.5" x2="499.42499999999995" y2="466.5" stroke="#1f70b8" stroke-width="2.6" stroke-linecap="butt"/>
<line x1="485.42499999999995" y1="502.5" x2="499.42499999999995" y2="502.5" stroke="#1f70b8" stroke-width="2.6" stroke-linecap="butt"/>
<line x1="575.525" y1="423.5" x2="575.525" y2="487.5" stroke="#1f70b8" stroke-width="2.6" stroke-linecap="butt"/>
<line x1="568.525" y1="423.5" x2="582.525" y2="423.5" stroke="#1f70b8" stroke-width="2.6" stroke-linecap="butt"/>
<line x1="568.525" y1="487.5" x2="582.525" y2="487.5" stroke="#1f70b8" stroke-width="2.6" stroke-linecap="butt"/>
<line x1="132.325" y1="388.8" x2="132.325" y2="454.8" stroke="#1f70b8" stroke-width="2.6" stroke-linecap="butt"/>
<line x1="125.32499999999999" y1="388.8" x2="139.325" y2="388.8" stroke="#1f70b8" stroke-width="2.6" stroke-linecap="butt"/>
<line x1="125.32499999999999" y1="454.8" x2="139.325" y2="454.8" stroke="#1f70b8" stroke-width="2.6" stroke-linecap="butt"/>
<line x1="146.175" y1="392" x2="146.175" y2="448" stroke="#1f70b8" stroke-width="2.6" stroke-linecap="butt"/>
<line x1="139.175" y1="392" x2="153.175" y2="392" stroke="#1f70b8" stroke-width="2.6" stroke-linecap="butt"/>
<line x1="139.175" y1="448" x2="153.175" y2="448" stroke="#1f70b8" stroke-width="2.6" stroke-linecap="butt"/>
<line x1="160.025" y1="406.2" x2="160.025" y2="470.2" stroke="#1f70b8" stroke-width="2.6" stroke-linecap="butt"/>
<line x1="153.025" y1="406.2" x2="167.025" y2="406.2" stroke="#1f70b8" stroke-width="2.6" stroke-linecap="butt"/>
<line x1="153.025" y1="470.2" x2="167.025" y2="470.2" stroke="#1f70b8" stroke-width="2.6" stroke-linecap="butt"/>
<line x1="118.475" y1="390" x2="118.475" y2="450" stroke="#1f70b8" stroke-width="2.6" stroke-linecap="butt"/>
<line x1="111.475" y1="390" x2="125.475" y2="390" stroke="#1f70b8" stroke-width="2.6" stroke-linecap="butt"/>
<line x1="111.475" y1="450" x2="125.475" y2="450" stroke="#1f70b8" stroke-width="2.6" stroke-linecap="butt"/>
<line x1="173.875" y1="399.3" x2="173.875" y2="415.3" stroke="#1f70b8" stroke-width="2.6" stroke-linecap="butt"/>
<line x1="166.875" y1="399.3" x2="180.875" y2="399.3" stroke="#1f70b8" stroke-width="2.6" stroke-linecap="butt"/>
<line x1="166.875" y1="415.3" x2="180.875" y2="415.3" stroke="#1f70b8" stroke-width="2.6" stroke-linecap="butt"/>
<line x1="201.575" y1="462.9" x2="201.575" y2="478.9" stroke="#1f70b8" stroke-width="2.6" stroke-linecap="butt"/>
<line x1="194.575" y1="462.9" x2="208.575" y2="462.9" stroke="#1f70b8" stroke-width="2.6" stroke-linecap="butt"/>
<line x1="194.575" y1="478.9" x2="208.575" y2="478.9" stroke="#1f70b8" stroke-width="2.6" stroke-linecap="butt"/>
<line x1="284.675" y1="445.4" x2="284.675" y2="507.4" stroke="#1f70b8" stroke-width="2.6" stroke-linecap="butt"/>
<line x1="277.675" y1="445.4" x2="291.675" y2="445.4" stroke="#1f70b8" stroke-width="2.6" stroke-linecap="butt"/>
<line x1="277.675" y1="507.4" x2="291.675" y2="507.4" stroke="#1f70b8" stroke-width="2.6" stroke-linecap="butt"/>
<line x1="312.375" y1="581" x2="312.375" y2="619" stroke="#1f70b8" stroke-width="2.6" stroke-linecap="butt"/>
<line x1="305.375" y1="581" x2="319.375" y2="581" stroke="#1f70b8" stroke-width="2.6" stroke-linecap="butt"/>
<line x1="305.375" y1="619" x2="319.375" y2="619" stroke="#1f70b8" stroke-width="2.6" stroke-linecap="butt"/>
<line x1="367.775" y1="475.3" x2="367.775" y2="499.3" stroke="#1f70b8" stroke-width="2.6" stroke-linecap="butt"/>
<line x1="360.775" y1="475.3" x2="374.775" y2="475.3" stroke="#1f70b8" stroke-width="2.6" stroke-linecap="butt"/>
<line x1="360.775" y1="499.3" x2="374.775" y2="499.3" stroke="#1f70b8" stroke-width="2.6" stroke-linecap="butt"/>
<line x1="450.875" y1="411.8" x2="450.875" y2="497.8" stroke="#1f70b8" stroke-width="2.6" stroke-linecap="butt"/>
<line x1="443.875" y1="411.8" x2="457.875" y2="411.8" stroke="#1f70b8" stroke-width="2.6" stroke-linecap="butt"/>
<line x1="443.875" y1="497.8" x2="457.875" y2="497.8" stroke="#1f70b8" stroke-width="2.6" stroke-linecap="butt"/>
<line x1="617.075" y1="273.9" x2="617.075" y2="315.1" stroke="#1f70b8" stroke-width="2.6" stroke-linecap="butt"/>
<line x1="610.075" y1="273.9" x2="624.075" y2="273.9" stroke="#1f70b8" stroke-width="2.6" stroke-linecap="butt"/>
<line x1="610.075" y1="315.1" x2="624.075" y2="315.1" stroke="#1f70b8" stroke-width="2.6" stroke-linecap="butt"/>
<line x1="644.775" y1="404.0" x2="644.775" y2="429.0" stroke="#1f70b8" stroke-width="2.6" stroke-linecap="butt"/>
<line x1="637.775" y1="404.0" x2="651.775" y2="404.0" stroke="#1f70b8" stroke-width="2.6" stroke-linecap="butt"/>
<line x1="637.775" y1="429.0" x2="651.775" y2="429.0" stroke="#1f70b8" stroke-width="2.6" stroke-linecap="butt"/>
<line x1="243.125" y1="478.5" x2="243.125" y2="492.5" stroke="#1f70b8" stroke-width="2.6" stroke-linecap="butt"/>
<line x1="236.125" y1="478.5" x2="250.125" y2="478.5" stroke="#1f70b8" stroke-width="2.6" stroke-linecap="butt"/>
<line x1="236.125" y1="492.5" x2="250.125" y2="492.5" stroke="#1f70b8" stroke-width="2.6" stroke-linecap="butt"/>
<line x1="437.025" y1="561" x2="437.025" y2="577" stroke="#1f70b8" stroke-width="2.6" stroke-linecap="butt"/>
<line x1="430.025" y1="561" x2="444.025" y2="561" stroke="#1f70b8" stroke-width="2.6" stroke-linecap="butt"/>
<line x1="430.025" y1="577" x2="444.025" y2="577" stroke="#1f70b8" stroke-width="2.6" stroke-linecap="butt"/>
<line x1="464.72499999999997" y1="538.5" x2="464.72499999999997" y2="554.5" stroke="#1f70b8" stroke-width="2.6" stroke-linecap="butt"/>
<line x1="457.72499999999997" y1="538.5" x2="471.72499999999997" y2="538.5" stroke="#1f70b8" stroke-width="2.6" stroke-linecap="butt"/>
<line x1="457.72499999999997" y1="554.5" x2="471.72499999999997" y2="554.5" stroke="#1f70b8" stroke-width="2.6" stroke-linecap="butt"/>
<line x1="547.825" y1="440.4" x2="547.825" y2="456.4" stroke="#1f70b8" stroke-width="2.6" stroke-linecap="butt"/>
<line x1="540.825" y1="440.4" x2="554.825" y2="440.4" stroke="#1f70b8" stroke-width="2.6" stroke-linecap="butt"/>
<line x1="540.825" y1="456.4" x2="554.825" y2="456.4" stroke="#1f70b8" stroke-width="2.6" stroke-linecap="butt"/>
<line x1="658.625" y1="354.2" x2="658.625" y2="372.2" stroke="#1f70b8" stroke-width="2.6" stroke-linecap="butt"/>
<line x1="651.625" y1="354.2" x2="665.625" y2="354.2" stroke="#1f70b8" stroke-width="2.6" stroke-linecap="butt"/>
<line x1="651.625" y1="372.2" x2="665.625" y2="372.2" stroke="#1f70b8" stroke-width="2.6" stroke-linecap="butt"/>
<line x1="603.225" y1="341.4" x2="603.225" y2="359.4" stroke="#1f70b8" stroke-width="2.6" stroke-linecap="butt"/>
<line x1="596.225" y1="341.4" x2="610.225" y2="341.4" stroke="#1f70b8" stroke-width="2.6" stroke-linecap="butt"/>
<line x1="596.225" y1="359.4" x2="610.225" y2="359.4" stroke="#1f70b8" stroke-width="2.6" stroke-linecap="butt"/>
<line x1="478.575" y1="572.9" x2="478.575" y2="588.9" stroke="#1f70b8" stroke-width="2.6" stroke-linecap="butt"/>
<line x1="471.575" y1="572.9" x2="485.575" y2="572.9" stroke="#1f70b8" stroke-width="2.6" stroke-linecap="butt"/>
<line x1="471.575" y1="588.9" x2="485.575" y2="588.9" stroke="#1f70b8" stroke-width="2.6" stroke-linecap="butt"/>
<line x1="520.125" y1="534.5" x2="520.125" y2="550.5" stroke="#1f70b8" stroke-width="2.6" stroke-linecap="butt"/>
<line x1="513.125" y1="534.5" x2="527.125" y2="534.5" stroke="#1f70b8" stroke-width="2.6" stroke-linecap="butt"/>
<line x1="513.125" y1="550.5" x2="527.125" y2="550.5" stroke="#1f70b8" stroke-width="2.6" stroke-linecap="butt"/>
<line x1="100.00833333333334" y1="196.0" x2="100.00833333333334" y2="213.0" stroke="#1f70b8" stroke-width="2.6" stroke-linecap="butt"/>
<line x1="93.00833333333334" y1="196.0" x2="107.00833333333334" y2="196.0" stroke="#1f70b8" stroke-width="2.6" stroke-linecap="butt"/>
<line x1="93.00833333333334" y1="213.0" x2="107.00833333333334" y2="213.0" stroke="#1f70b8" stroke-width="2.6" stroke-linecap="butt"/>
<line x1="102.31666666666666" y1="303.0" x2="102.31666666666666" y2="347.0" stroke="#1f70b8" stroke-width="2.6" stroke-linecap="butt"/>
<line x1="95.31666666666666" y1="303.0" x2="109.31666666666666" y2="303.0" stroke="#1f70b8" stroke-width="2.6" stroke-linecap="butt"/>
<line x1="95.31666666666666" y1="347.0" x2="109.31666666666666" y2="347.0" stroke="#1f70b8" stroke-width="2.6" stroke-linecap="butt"/>
<path d="M97.7 1050.0L98.0 229.5M98.0 229.5L98.3 293.0M98.3 293.0L98.9 346.2M98.9 346.2L100.0 204.5M100.0 204.5L102.3 325.0M102.3 325.0L104.6 345.9" fill="none" stroke="#1f70b8" stroke-width="5.6" stroke-linejoin="round" stroke-linecap="round"/>
<path d="M104.6 345.9C106.7 368.7 109.3 410.1 111.5 422.0C113.8 433.9 115.2 420.0 118.5 420.0C121.8 420.0 127.9 421.8 132.3 421.8C136.8 421.8 141.7 417.4 146.2 420.0C150.6 422.6 155.6 440.2 160.0 438.2C164.5 436.2 169.4 400.6 173.9 407.3C178.3 414.0 183.3 469.8 187.7 480.0C192.2 490.2 197.1 464.5 201.6 470.9C206.0 477.3 211.0 518.5 215.4 520.0C219.9 521.5 224.8 485.5 229.3 480.0C233.7 474.5 238.7 473.9 243.1 485.5C247.6 497.1 252.5 552.7 257.0 552.7C261.4 552.7 266.4 497.7 270.8 485.5C275.3 473.3 280.2 470.9 284.7 476.4C289.1 481.9 294.1 500.2 298.5 520.0C303.0 539.8 307.9 584.9 312.4 600.0C316.8 615.1 321.8 622.3 326.2 614.5C330.7 606.7 335.6 559.4 340.1 551.0C344.5 542.6 349.5 572.0 353.9 561.8C358.4 551.6 363.3 504.5 367.8 487.3C372.2 470.1 377.2 426.6 381.6 454.5C386.1 482.4 391.0 644.2 395.5 661.9C399.9 679.6 404.9 579.7 409.3 565.0C413.8 550.3 418.7 569.4 423.2 570.0C427.6 570.6 432.6 587.4 437.0 569.0C441.5 550.6 446.4 458.4 450.9 454.8C455.3 451.2 460.3 526.3 464.7 546.5C469.2 566.7 474.1 590.8 478.6 580.9C483.0 571.0 488.0 484.5 492.4 484.5C496.9 484.5 501.8 571.6 506.3 580.9C510.7 590.2 515.7 543.2 520.1 542.5C524.6 541.8 529.5 591.7 534.0 576.6C538.4 561.5 543.4 447.4 547.8 448.4C552.3 449.4 557.2 581.9 561.7 583.0C566.1 584.1 571.1 478.4 575.5 455.5C580.0 432.6 584.9 456.8 589.4 440.0C593.8 423.2 598.8 373.7 603.2 350.4C607.7 327.1 612.6 288.7 617.1 294.5C621.5 300.3 626.5 367.1 630.9 386.6C635.4 406.1 640.3 420.2 644.8 416.5C649.2 412.8 656.4 371.7 658.6 363.2" fill="none" stroke="#1f70b8" stroke-width="7.1" stroke-linejoin="round" stroke-linecap="round"/>
<path d="M97.7 1041.5L106.2 1050.0L97.7 1058.5L89.2 1050.0Z" fill="#1f70b8" stroke="#1f70b8" stroke-width="2" stroke-linejoin="round"/>
<path d="M98.0 221.0L106.5 229.5L98.0 238.0L89.5 229.5Z" fill="#1f70b8" stroke="#1f70b8" stroke-width="2" stroke-linejoin="round"/>
<path d="M98.3 284.5L106.8 293.0L98.3 301.5L89.8 293.0Z" fill="#1f70b8" stroke="#1f70b8" stroke-width="2" stroke-linejoin="round"/>
<path d="M98.9 337.7L107.4 346.2L98.9 354.7L90.4 346.2Z" fill="#1f70b8" stroke="#1f70b8" stroke-width="2" stroke-linejoin="round"/>
<path d="M100.0 196.0L108.5 204.5L100.0 213.0L91.5 204.5Z" fill="#1f70b8" stroke="#1f70b8" stroke-width="2" stroke-linejoin="round"/>
<path d="M102.3 316.5L110.8 325.0L102.3 333.5L93.8 325.0Z" fill="#1f70b8" stroke="#1f70b8" stroke-width="2" stroke-linejoin="round"/>
<path d="M104.6 337.4L113.1 345.9L104.6 354.4L96.1 345.9Z" fill="#1f70b8" stroke="#1f70b8" stroke-width="2" stroke-linejoin="round"/>
<path d="M111.5 413.5L120.0 422.0L111.5 430.5L103.0 422.0Z" fill="#1f70b8" stroke="#1f70b8" stroke-width="2" stroke-linejoin="round"/>
<path d="M118.5 411.5L127.0 420.0L118.5 428.5L110.0 420.0Z" fill="#1f70b8" stroke="#1f70b8" stroke-width="2" stroke-linejoin="round"/>
<path d="M132.3 413.3L140.8 421.8L132.3 430.3L123.8 421.8Z" fill="#1f70b8" stroke="#1f70b8" stroke-width="2" stroke-linejoin="round"/>
<path d="M146.2 411.5L154.7 420.0L146.2 428.5L137.7 420.0Z" fill="#1f70b8" stroke="#1f70b8" stroke-width="2" stroke-linejoin="round"/>
<path d="M160.0 429.7L168.5 438.2L160.0 446.7L151.5 438.2Z" fill="#1f70b8" stroke="#1f70b8" stroke-width="2" stroke-linejoin="round"/>
<path d="M173.9 398.8L182.4 407.3L173.9 415.8L165.4 407.3Z" fill="#1f70b8" stroke="#1f70b8" stroke-width="2" stroke-linejoin="round"/>
<path d="M187.7 471.5L196.2 480.0L187.7 488.5L179.2 480.0Z" fill="#1f70b8" stroke="#1f70b8" stroke-width="2" stroke-linejoin="round"/>
<path d="M201.6 462.4L210.1 470.9L201.6 479.4L193.1 470.9Z" fill="#1f70b8" stroke="#1f70b8" stroke-width="2" stroke-linejoin="round"/>
<path d="M215.4 511.5L223.9 520.0L215.4 528.5L206.9 520.0Z" fill="#1f70b8" stroke="#1f70b8" stroke-width="2" stroke-linejoin="round"/>
<path d="M229.3 471.5L237.8 480.0L229.3 488.5L220.8 480.0Z" fill="#1f70b8" stroke="#1f70b8" stroke-width="2" stroke-linejoin="round"/>
<path d="M243.1 477.0L251.6 485.5L243.1 494.0L234.6 485.5Z" fill="#1f70b8" stroke="#1f70b8" stroke-width="2" stroke-linejoin="round"/>
<path d="M257.0 544.2L265.5 552.7L257.0 561.2L248.5 552.7Z" fill="#1f70b8" stroke="#1f70b8" stroke-width="2" stroke-linejoin="round"/>
<path d="M270.8 477.0L279.3 485.5L270.8 494.0L262.3 485.5Z" fill="#1f70b8" stroke="#1f70b8" stroke-width="2" stroke-linejoin="round"/>
<path d="M284.7 467.9L293.2 476.4L284.7 484.9L276.2 476.4Z" fill="#1f70b8" stroke="#1f70b8" stroke-width="2" stroke-linejoin="round"/>
<path d="M298.5 511.5L307.0 520.0L298.5 528.5L290.0 520.0Z" fill="#1f70b8" stroke="#1f70b8" stroke-width="2" stroke-linejoin="round"/>
<path d="M312.4 591.5L320.9 600.0L312.4 608.5L303.9 600.0Z" fill="#1f70b8" stroke="#1f70b8" stroke-width="2" stroke-linejoin="round"/>
<path d="M326.2 606.0L334.7 614.5L326.2 623.0L317.7 614.5Z" fill="#1f70b8" stroke="#1f70b8" stroke-width="2" stroke-linejoin="round"/>
<path d="M340.1 542.5L348.6 551.0L340.1 559.5L331.6 551.0Z" fill="#1f70b8" stroke="#1f70b8" stroke-width="2" stroke-linejoin="round"/>
<path d="M353.9 553.3L362.4 561.8L353.9 570.3L345.4 561.8Z" fill="#1f70b8" stroke="#1f70b8" stroke-width="2" stroke-linejoin="round"/>
<path d="M367.8 478.8L376.3 487.3L367.8 495.8L359.3 487.3Z" fill="#1f70b8" stroke="#1f70b8" stroke-width="2" stroke-linejoin="round"/>
<path d="M381.6 446.0L390.1 454.5L381.6 463.0L373.1 454.5Z" fill="#1f70b8" stroke="#1f70b8" stroke-width="2" stroke-linejoin="round"/>
<path d="M395.5 653.4L404.0 661.9L395.5 670.4L387.0 661.9Z" fill="#1f70b8" stroke="#1f70b8" stroke-width="2" stroke-linejoin="round"/>
<path d="M409.3 556.5L417.8 565.0L409.3 573.5L400.8 565.0Z" fill="#1f70b8" stroke="#1f70b8" stroke-width="2" stroke-linejoin="round"/>
<path d="M423.2 561.5L431.7 570.0L423.2 578.5L414.7 570.0Z" fill="#1f70b8" stroke="#1f70b8" stroke-width="2" stroke-linejoin="round"/>
<path d="M437.0 560.5L445.5 569.0L437.0 577.5L428.5 569.0Z" fill="#1f70b8" stroke="#1f70b8" stroke-width="2" stroke-linejoin="round"/>
<path d="M450.9 446.3L459.4 454.8L450.9 463.3L442.4 454.8Z" fill="#1f70b8" stroke="#1f70b8" stroke-width="2" stroke-linejoin="round"/>
<path d="M464.7 538.0L473.2 546.5L464.7 555.0L456.2 546.5Z" fill="#1f70b8" stroke="#1f70b8" stroke-width="2" stroke-linejoin="round"/>
<path d="M478.6 572.4L487.1 580.9L478.6 589.4L470.1 580.9Z" fill="#1f70b8" stroke="#1f70b8" stroke-width="2" stroke-linejoin="round"/>
<path d="M492.4 476.0L500.9 484.5L492.4 493.0L483.9 484.5Z" fill="#1f70b8" stroke="#1f70b8" stroke-width="2" stroke-linejoin="round"/>
<path d="M506.3 572.4L514.8 580.9L506.3 589.4L497.8 580.9Z" fill="#1f70b8" stroke="#1f70b8" stroke-width="2" stroke-linejoin="round"/>
<path d="M520.1 534.0L528.6 542.5L520.1 551.0L511.6 542.5Z" fill="#1f70b8" stroke="#1f70b8" stroke-width="2" stroke-linejoin="round"/>
<path d="M534.0 568.1L542.5 576.6L534.0 585.1L525.5 576.6Z" fill="#1f70b8" stroke="#1f70b8" stroke-width="2" stroke-linejoin="round"/>
<path d="M547.8 439.9L556.3 448.4L547.8 456.9L539.3 448.4Z" fill="#1f70b8" stroke="#1f70b8" stroke-width="2" stroke-linejoin="round"/>
<path d="M561.7 574.5L570.2 583.0L561.7 591.5L553.2 583.0Z" fill="#1f70b8" stroke="#1f70b8" stroke-width="2" stroke-linejoin="round"/>
<path d="M575.5 447.0L584.0 455.5L575.5 464.0L567.0 455.5Z" fill="#1f70b8" stroke="#1f70b8" stroke-width="2" stroke-linejoin="round"/>
<path d="M589.4 431.5L597.9 440.0L589.4 448.5L580.9 440.0Z" fill="#1f70b8" stroke="#1f70b8" stroke-width="2" stroke-linejoin="round"/>
<path d="M603.2 341.9L611.7 350.4L603.2 358.9L594.7 350.4Z" fill="#1f70b8" stroke="#1f70b8" stroke-width="2" stroke-linejoin="round"/>
<path d="M617.1 286.0L625.6 294.5L617.1 303.0L608.6 294.5Z" fill="#1f70b8" stroke="#1f70b8" stroke-width="2" stroke-linejoin="round"/>
<path d="M630.9 378.1L639.4 386.6L630.9 395.1L622.4 386.6Z" fill="#1f70b8" stroke="#1f70b8" stroke-width="2" stroke-linejoin="round"/>
<path d="M644.8 408.0L653.3 416.5L644.8 425.0L636.3 416.5Z" fill="#1f70b8" stroke="#1f70b8" stroke-width="2" stroke-linejoin="round"/>
<path d="M658.6 354.7L667.1 363.2L658.6 371.7L650.1 363.2Z" fill="#1f70b8" stroke="#1f70b8" stroke-width="2" stroke-linejoin="round"/>
<line x1="437.025" y1="501" x2="437.025" y2="541" stroke="#ec2227" stroke-width="2.6" stroke-linecap="butt"/>
<line x1="430.025" y1="501" x2="444.025" y2="501" stroke="#ec2227" stroke-width="2.6" stroke-linecap="butt"/>
<line x1="430.025" y1="541" x2="444.025" y2="541" stroke="#ec2227" stroke-width="2.6" stroke-linecap="butt"/>
<line x1="464.72499999999997" y1="527.3" x2="464.72499999999997" y2="557.3" stroke="#ec2227" stroke-width="2.6" stroke-linecap="butt"/>
<line x1="457.72499999999997" y1="527.3" x2="471.72499999999997" y2="527.3" stroke="#ec2227" stroke-width="2.6" stroke-linecap="butt"/>
<line x1="457.72499999999997" y1="557.3" x2="471.72499999999997" y2="557.3" stroke="#ec2227" stroke-width="2.6" stroke-linecap="butt"/>
<line x1="589.375" y1="469.4" x2="589.375" y2="491.4" stroke="#ec2227" stroke-width="2.6" stroke-linecap="butt"/>
<line x1="582.375" y1="469.4" x2="596.375" y2="469.4" stroke="#ec2227" stroke-width="2.6" stroke-linecap="butt"/>
<line x1="582.375" y1="491.4" x2="596.375" y2="491.4" stroke="#ec2227" stroke-width="2.6" stroke-linecap="butt"/>
<line x1="118.475" y1="340.0" x2="118.475" y2="369.20000000000005" stroke="#ec2227" stroke-width="2.6" stroke-linecap="butt"/>
<line x1="111.475" y1="340.0" x2="125.475" y2="340.0" stroke="#ec2227" stroke-width="2.6" stroke-linecap="butt"/>
<line x1="111.475" y1="369.20000000000005" x2="125.475" y2="369.20000000000005" stroke="#ec2227" stroke-width="2.6" stroke-linecap="butt"/>
<line x1="132.325" y1="315.1" x2="132.325" y2="330.1" stroke="#ec2227" stroke-width="2.6" stroke-linecap="butt"/>
<line x1="125.32499999999999" y1="315.1" x2="139.325" y2="315.1" stroke="#ec2227" stroke-width="2.6" stroke-linecap="butt"/>
<line x1="125.32499999999999" y1="330.1" x2="139.325" y2="330.1" stroke="#ec2227" stroke-width="2.6" stroke-linecap="butt"/>
<line x1="173.875" y1="359" x2="173.875" y2="417" stroke="#ec2227" stroke-width="2.6" stroke-linecap="butt"/>
<line x1="166.875" y1="359" x2="180.875" y2="359" stroke="#ec2227" stroke-width="2.6" stroke-linecap="butt"/>
<line x1="166.875" y1="417" x2="180.875" y2="417" stroke="#ec2227" stroke-width="2.6" stroke-linecap="butt"/>
<line x1="187.725" y1="365" x2="187.725" y2="379" stroke="#ec2227" stroke-width="2.6" stroke-linecap="butt"/>
<line x1="180.725" y1="365" x2="194.725" y2="365" stroke="#ec2227" stroke-width="2.6" stroke-linecap="butt"/>
<line x1="180.725" y1="379" x2="194.725" y2="379" stroke="#ec2227" stroke-width="2.6" stroke-linecap="butt"/>
<line x1="243.125" y1="431" x2="243.125" y2="453" stroke="#ec2227" stroke-width="2.6" stroke-linecap="butt"/>
<line x1="236.125" y1="431" x2="250.125" y2="431" stroke="#ec2227" stroke-width="2.6" stroke-linecap="butt"/>
<line x1="236.125" y1="453" x2="250.125" y2="453" stroke="#ec2227" stroke-width="2.6" stroke-linecap="butt"/>
<line x1="256.975" y1="437.4" x2="256.975" y2="459.4" stroke="#ec2227" stroke-width="2.6" stroke-linecap="butt"/>
<line x1="249.97500000000002" y1="437.4" x2="263.975" y2="437.4" stroke="#ec2227" stroke-width="2.6" stroke-linecap="butt"/>
<line x1="249.97500000000002" y1="459.4" x2="263.975" y2="459.4" stroke="#ec2227" stroke-width="2.6" stroke-linecap="butt"/>
<line x1="312.375" y1="441.8" x2="312.375" y2="480.59999999999997" stroke="#ec2227" stroke-width="2.6" stroke-linecap="butt"/>
<line x1="305.375" y1="441.8" x2="319.375" y2="441.8" stroke="#ec2227" stroke-width="2.6" stroke-linecap="butt"/>
<line x1="305.375" y1="480.59999999999997" x2="319.375" y2="480.59999999999997" stroke="#ec2227" stroke-width="2.6" stroke-linecap="butt"/>
<line x1="326.225" y1="454.6" x2="326.225" y2="478.6" stroke="#ec2227" stroke-width="2.6" stroke-linecap="butt"/>
<line x1="319.225" y1="454.6" x2="333.225" y2="454.6" stroke="#ec2227" stroke-width="2.6" stroke-linecap="butt"/>
<line x1="319.225" y1="478.6" x2="333.225" y2="478.6" stroke="#ec2227" stroke-width="2.6" stroke-linecap="butt"/>
<line x1="340.075" y1="509.20000000000005" x2="340.075" y2="541.2" stroke="#ec2227" stroke-width="2.6" stroke-linecap="butt"/>
<line x1="333.075" y1="509.20000000000005" x2="347.075" y2="509.20000000000005" stroke="#ec2227" stroke-width="2.6" stroke-linecap="butt"/>
<line x1="333.075" y1="541.2" x2="347.075" y2="541.2" stroke="#ec2227" stroke-width="2.6" stroke-linecap="butt"/>
<line x1="381.625" y1="404.5" x2="381.625" y2="445.5" stroke="#ec2227" stroke-width="2.6" stroke-linecap="butt"/>
<line x1="374.625" y1="404.5" x2="388.625" y2="404.5" stroke="#ec2227" stroke-width="2.6" stroke-linecap="butt"/>
<line x1="374.625" y1="445.5" x2="388.625" y2="445.5" stroke="#ec2227" stroke-width="2.6" stroke-linecap="butt"/>
<line x1="492.42499999999995" y1="397.2" x2="492.42499999999995" y2="427.2" stroke="#ec2227" stroke-width="2.6" stroke-linecap="butt"/>
<line x1="485.42499999999995" y1="397.2" x2="499.42499999999995" y2="397.2" stroke="#ec2227" stroke-width="2.6" stroke-linecap="butt"/>
<line x1="485.42499999999995" y1="427.2" x2="499.42499999999995" y2="427.2" stroke="#ec2227" stroke-width="2.6" stroke-linecap="butt"/>
<line x1="506.275" y1="438.0" x2="506.275" y2="463.20000000000005" stroke="#ec2227" stroke-width="2.6" stroke-linecap="butt"/>
<line x1="499.275" y1="438.0" x2="513.275" y2="438.0" stroke="#ec2227" stroke-width="2.6" stroke-linecap="butt"/>
<line x1="499.275" y1="463.20000000000005" x2="513.275" y2="463.20000000000005" stroke="#ec2227" stroke-width="2.6" stroke-linecap="butt"/>
<line x1="533.975" y1="437.4" x2="533.975" y2="459.4" stroke="#ec2227" stroke-width="2.6" stroke-linecap="butt"/>
<line x1="526.975" y1="437.4" x2="540.975" y2="437.4" stroke="#ec2227" stroke-width="2.6" stroke-linecap="butt"/>
<line x1="526.975" y1="459.4" x2="540.975" y2="459.4" stroke="#ec2227" stroke-width="2.6" stroke-linecap="butt"/>
<line x1="575.525" y1="409.1" x2="575.525" y2="445.1" stroke="#ec2227" stroke-width="2.6" stroke-linecap="butt"/>
<line x1="568.525" y1="409.1" x2="582.525" y2="409.1" stroke="#ec2227" stroke-width="2.6" stroke-linecap="butt"/>
<line x1="568.525" y1="445.1" x2="582.525" y2="445.1" stroke="#ec2227" stroke-width="2.6" stroke-linecap="butt"/>
<line x1="617.075" y1="345.3" x2="617.075" y2="385.3" stroke="#ec2227" stroke-width="2.6" stroke-linecap="butt"/>
<line x1="610.075" y1="345.3" x2="624.075" y2="345.3" stroke="#ec2227" stroke-width="2.6" stroke-linecap="butt"/>
<line x1="610.075" y1="385.3" x2="624.075" y2="385.3" stroke="#ec2227" stroke-width="2.6" stroke-linecap="butt"/>
<line x1="658.625" y1="317.3" x2="658.625" y2="362.09999999999997" stroke="#ec2227" stroke-width="2.6" stroke-linecap="butt"/>
<line x1="651.625" y1="317.3" x2="665.625" y2="317.3" stroke="#ec2227" stroke-width="2.6" stroke-linecap="butt"/>
<line x1="651.625" y1="362.09999999999997" x2="665.625" y2="362.09999999999997" stroke="#ec2227" stroke-width="2.6" stroke-linecap="butt"/>
<line x1="603.225" y1="369.0" x2="603.225" y2="400.0" stroke="#ec2227" stroke-width="2.6" stroke-linecap="butt"/>
<line x1="596.225" y1="369.0" x2="610.225" y2="369.0" stroke="#ec2227" stroke-width="2.6" stroke-linecap="butt"/>
<line x1="596.225" y1="400.0" x2="610.225" y2="400.0" stroke="#ec2227" stroke-width="2.6" stroke-linecap="butt"/>
<line x1="215.425" y1="459.6" x2="215.425" y2="475.6" stroke="#ec2227" stroke-width="2.6" stroke-linecap="butt"/>
<line x1="208.425" y1="459.6" x2="222.425" y2="459.6" stroke="#ec2227" stroke-width="2.6" stroke-linecap="butt"/>
<line x1="208.425" y1="475.6" x2="222.425" y2="475.6" stroke="#ec2227" stroke-width="2.6" stroke-linecap="butt"/>
<line x1="229.27499999999998" y1="457.5" x2="229.27499999999998" y2="473.5" stroke="#ec2227" stroke-width="2.6" stroke-linecap="butt"/>
<line x1="222.27499999999998" y1="457.5" x2="236.27499999999998" y2="457.5" stroke="#ec2227" stroke-width="2.6" stroke-linecap="butt"/>
<line x1="222.27499999999998" y1="473.5" x2="236.27499999999998" y2="473.5" stroke="#ec2227" stroke-width="2.6" stroke-linecap="butt"/>
<line x1="409.325" y1="543.9" x2="409.325" y2="561.9" stroke="#ec2227" stroke-width="2.6" stroke-linecap="butt"/>
<line x1="402.325" y1="543.9" x2="416.325" y2="543.9" stroke="#ec2227" stroke-width="2.6" stroke-linecap="butt"/>
<line x1="402.325" y1="561.9" x2="416.325" y2="561.9" stroke="#ec2227" stroke-width="2.6" stroke-linecap="butt"/>
<line x1="423.17499999999995" y1="564" x2="423.17499999999995" y2="580" stroke="#ec2227" stroke-width="2.6" stroke-linecap="butt"/>
<line x1="416.17499999999995" y1="564" x2="430.17499999999995" y2="564" stroke="#ec2227" stroke-width="2.6" stroke-linecap="butt"/>
<line x1="416.17499999999995" y1="580" x2="430.17499999999995" y2="580" stroke="#ec2227" stroke-width="2.6" stroke-linecap="butt"/>
<line x1="520.125" y1="494.9" x2="520.125" y2="512.9" stroke="#ec2227" stroke-width="2.6" stroke-linecap="butt"/>
<line x1="513.125" y1="494.9" x2="527.125" y2="494.9" stroke="#ec2227" stroke-width="2.6" stroke-linecap="butt"/>
<line x1="513.125" y1="512.9" x2="527.125" y2="512.9" stroke="#ec2227" stroke-width="2.6" stroke-linecap="butt"/>
<line x1="298.525" y1="504.4" x2="298.525" y2="520.4" stroke="#ec2227" stroke-width="2.6" stroke-linecap="butt"/>
<line x1="291.525" y1="504.4" x2="305.525" y2="504.4" stroke="#ec2227" stroke-width="2.6" stroke-linecap="butt"/>
<line x1="291.525" y1="520.4" x2="305.525" y2="520.4" stroke="#ec2227" stroke-width="2.6" stroke-linecap="butt"/>
<path d="M97.7 638.0L98.0 315.1M98.0 315.1L98.3 377.3M98.3 377.3L98.9 465.2M98.9 465.2L100.0 369.2M100.0 369.2L102.3 368.8M102.3 368.8L104.6 379.0" fill="none" stroke="#ec2227" stroke-width="5.6" stroke-linejoin="round" stroke-linecap="round"/>
<path d="M104.6 379.0C106.7 390.7 109.3 421.9 111.5 418.0C113.8 414.1 115.2 369.9 118.5 354.6C121.8 339.3 127.9 325.5 132.3 322.6C136.8 319.7 141.7 326.0 146.2 336.6C150.6 347.2 155.6 380.5 160.0 388.7C164.5 396.9 169.4 390.7 173.9 388.0C178.3 385.3 183.3 364.0 187.7 372.0C192.2 380.0 197.1 422.5 201.6 437.8C206.0 453.1 211.0 463.2 215.4 467.6C219.9 472.0 224.8 469.6 229.3 465.5C233.7 461.4 238.7 444.7 243.1 442.0C247.6 439.3 252.5 431.3 257.0 448.4C261.4 465.5 266.4 555.5 270.8 548.7C275.3 541.9 280.2 411.6 284.7 405.8C289.1 400.0 294.1 503.5 298.5 512.4C303.0 521.3 307.9 468.5 312.4 461.2C316.8 453.9 321.8 456.4 326.2 466.6C330.7 476.8 335.6 512.9 340.1 525.2C344.5 537.5 349.5 543.6 353.9 543.3C358.4 543.0 363.3 542.0 367.8 523.1C372.2 504.2 377.2 426.2 381.6 425.0C386.1 423.8 391.0 495.1 395.5 515.6C399.9 536.1 404.9 543.9 409.3 552.9C413.8 561.9 418.7 577.1 423.2 572.0C427.6 566.9 432.6 536.0 437.0 521.0C441.5 506.0 446.4 474.9 450.9 478.3C455.3 481.7 460.3 539.9 464.7 542.3C469.2 544.7 474.1 514.0 478.6 493.2C483.0 472.4 488.0 419.0 492.4 412.2C496.9 405.4 501.8 435.9 506.3 450.6C510.7 465.3 515.7 504.3 520.1 503.9C524.6 503.5 529.5 451.5 534.0 448.4C538.4 445.3 543.4 481.6 547.8 484.7C552.3 487.8 557.2 476.8 561.7 467.6C566.1 458.4 571.1 425.1 575.5 427.1C580.0 429.1 584.9 487.2 589.4 480.4C593.8 473.6 598.8 402.9 603.2 384.5C607.7 366.1 612.6 367.3 617.1 365.3C621.5 363.3 626.5 369.7 630.9 371.7C635.4 373.7 640.3 383.2 644.8 378.1C649.2 373.0 656.4 345.8 658.6 339.7" fill="none" stroke="#ec2227" stroke-width="7.1" stroke-linejoin="round" stroke-linecap="round"/>
<path d="M97.7 629.5L106.2 638.0L97.7 646.5L89.2 638.0Z" fill="#ec2227" stroke="#ec2227" stroke-width="2" stroke-linejoin="round"/>
<path d="M98.0 306.6L106.5 315.1L98.0 323.6L89.5 315.1Z" fill="#ec2227" stroke="#ec2227" stroke-width="2" stroke-linejoin="round"/>
<path d="M98.3 368.8L106.8 377.3L98.3 385.8L89.8 377.3Z" fill="#ec2227" stroke="#ec2227" stroke-width="2" stroke-linejoin="round"/>
<path d="M98.9 456.7L107.4 465.2L98.9 473.7L90.4 465.2Z" fill="#ec2227" stroke="#ec2227" stroke-width="2" stroke-linejoin="round"/>
<path d="M100.0 360.7L108.5 369.2L100.0 377.7L91.5 369.2Z" fill="#ec2227" stroke="#ec2227" stroke-width="2" stroke-linejoin="round"/>
<path d="M102.3 360.3L110.8 368.8L102.3 377.3L93.8 368.8Z" fill="#ec2227" stroke="#ec2227" stroke-width="2" stroke-linejoin="round"/>
<path d="M104.6 370.5L113.1 379.0L104.6 387.5L96.1 379.0Z" fill="#ec2227" stroke="#ec2227" stroke-width="2" stroke-linejoin="round"/>
<path d="M111.5 409.5L120.0 418.0L111.5 426.5L103.0 418.0Z" fill="#ec2227" stroke="#ec2227" stroke-width="2" stroke-linejoin="round"/>
<path d="M118.5 346.1L127.0 354.6L118.5 363.1L110.0 354.6Z" fill="#ec2227" stroke="#ec2227" stroke-width="2" stroke-linejoin="round"/>
<path d="M132.3 314.1L140.8 322.6L132.3 331.1L123.8 322.6Z" fill="#ec2227" stroke="#ec2227" stroke-width="2" stroke-linejoin="round"/>
<path d="M146.2 328.1L154.7 336.6L146.2 345.1L137.7 336.6Z" fill="#ec2227" stroke="#ec2227" stroke-width="2" stroke-linejoin="round"/>
<path d="M160.0 380.2L168.5 388.7L160.0 397.2L151.5 388.7Z" fill="#ec2227" stroke="#ec2227" stroke-width="2" stroke-linejoin="round"/>
<path d="M173.9 379.5L182.4 388.0L173.9 396.5L165.4 388.0Z" fill="#ec2227" stroke="#ec2227" stroke-width="2" stroke-linejoin="round"/>
<path d="M187.7 363.5L196.2 372.0L187.7 380.5L179.2 372.0Z" fill="#ec2227" stroke="#ec2227" stroke-width="2" stroke-linejoin="round"/>
<path d="M201.6 429.3L210.1 437.8L201.6 446.3L193.1 437.8Z" fill="#ec2227" stroke="#ec2227" stroke-width="2" stroke-linejoin="round"/>
<path d="M215.4 459.1L223.9 467.6L215.4 476.1L206.9 467.6Z" fill="#ec2227" stroke="#ec2227" stroke-width="2" stroke-linejoin="round"/>
<path d="M229.3 457.0L237.8 465.5L229.3 474.0L220.8 465.5Z" fill="#ec2227" stroke="#ec2227" stroke-width="2" stroke-linejoin="round"/>
<path d="M243.1 433.5L251.6 442.0L243.1 450.5L234.6 442.0Z" fill="#ec2227" stroke="#ec2227" stroke-width="2" stroke-linejoin="round"/>
<path d="M257.0 439.9L265.5 448.4L257.0 456.9L248.5 448.4Z" fill="#ec2227" stroke="#ec2227" stroke-width="2" stroke-linejoin="round"/>
<path d="M270.8 540.2L279.3 548.7L270.8 557.2L262.3 548.7Z" fill="#ec2227" stroke="#ec2227" stroke-width="2" stroke-linejoin="round"/>
<path d="M284.7 397.3L293.2 405.8L284.7 414.3L276.2 405.8Z" fill="#ec2227" stroke="#ec2227" stroke-width="2" stroke-linejoin="round"/>
<path d="M298.5 503.9L307.0 512.4L298.5 520.9L290.0 512.4Z" fill="#ec2227" stroke="#ec2227" stroke-width="2" stroke-linejoin="round"/>
<path d="M312.4 452.7L320.9 461.2L312.4 469.7L303.9 461.2Z" fill="#ec2227" stroke="#ec2227" stroke-width="2" stroke-linejoin="round"/>
<path d="M326.2 458.1L334.7 466.6L326.2 475.1L317.7 466.6Z" fill="#ec2227" stroke="#ec2227" stroke-width="2" stroke-linejoin="round"/>
<path d="M340.1 516.7L348.6 525.2L340.1 533.7L331.6 525.2Z" fill="#ec2227" stroke="#ec2227" stroke-width="2" stroke-linejoin="round"/>
<path d="M353.9 534.8L362.4 543.3L353.9 551.8L345.4 543.3Z" fill="#ec2227" stroke="#ec2227" stroke-width="2" stroke-linejoin="round"/>
<path d="M367.8 514.6L376.3 523.1L367.8 531.6L359.3 523.1Z" fill="#ec2227" stroke="#ec2227" stroke-width="2" stroke-linejoin="round"/>
<path d="M381.6 416.5L390.1 425.0L381.6 433.5L373.1 425.0Z" fill="#ec2227" stroke="#ec2227" stroke-width="2" stroke-linejoin="round"/>
<path d="M395.5 507.1L404.0 515.6L395.5 524.1L387.0 515.6Z" fill="#ec2227" stroke="#ec2227" stroke-width="2" stroke-linejoin="round"/>
<path d="M409.3 544.4L417.8 552.9L409.3 561.4L400.8 552.9Z" fill="#ec2227" stroke="#ec2227" stroke-width="2" stroke-linejoin="round"/>
<path d="M423.2 563.5L431.7 572.0L423.2 580.5L414.7 572.0Z" fill="#ec2227" stroke="#ec2227" stroke-width="2" stroke-linejoin="round"/>
<path d="M437.0 512.5L445.5 521.0L437.0 529.5L428.5 521.0Z" fill="#ec2227" stroke="#ec2227" stroke-width="2" stroke-linejoin="round"/>
<path d="M450.9 469.8L459.4 478.3L450.9 486.8L442.4 478.3Z" fill="#ec2227" stroke="#ec2227" stroke-width="2" stroke-linejoin="round"/>
<path d="M464.7 533.8L473.2 542.3L464.7 550.8L456.2 542.3Z" fill="#ec2227" stroke="#ec2227" stroke-width="2" stroke-linejoin="round"/>
<path d="M478.6 484.7L487.1 493.2L478.6 501.7L470.1 493.2Z" fill="#ec2227" stroke="#ec2227" stroke-width="2" stroke-linejoin="round"/>
<path d="M492.4 403.7L500.9 412.2L492.4 420.7L483.9 412.2Z" fill="#ec2227" stroke="#ec2227" stroke-width="2" stroke-linejoin="round"/>
<path d="M506.3 442.1L514.8 450.6L506.3 459.1L497.8 450.6Z" fill="#ec2227" stroke="#ec2227" stroke-width="2" stroke-linejoin="round"/>
<path d="M520.1 495.4L528.6 503.9L520.1 512.4L511.6 503.9Z" fill="#ec2227" stroke="#ec2227" stroke-width="2" stroke-linejoin="round"/>
<path d="M534.0 439.9L542.5 448.4L534.0 456.9L525.5 448.4Z" fill="#ec2227" stroke="#ec2227" stroke-width="2" stroke-linejoin="round"/>
<path d="M547.8 476.2L556.3 484.7L547.8 493.2L539.3 484.7Z" fill="#ec2227" stroke="#ec2227" stroke-width="2" stroke-linejoin="round"/>
<path d="M561.7 459.1L570.2 467.6L561.7 476.1L553.2 467.6Z" fill="#ec2227" stroke="#ec2227" stroke-width="2" stroke-linejoin="round"/>
<path d="M575.5 418.6L584.0 427.1L575.5 435.6L567.0 427.1Z" fill="#ec2227" stroke="#ec2227" stroke-width="2" stroke-linejoin="round"/>
<path d="M589.4 471.9L597.9 480.4L589.4 488.9L580.9 480.4Z" fill="#ec2227" stroke="#ec2227" stroke-width="2" stroke-linejoin="round"/>
<path d="M603.2 376.0L611.7 384.5L603.2 393.0L594.7 384.5Z" fill="#ec2227" stroke="#ec2227" stroke-width="2" stroke-linejoin="round"/>
<path d="M617.1 356.8L625.6 365.3L617.1 373.8L608.6 365.3Z" fill="#ec2227" stroke="#ec2227" stroke-width="2" stroke-linejoin="round"/>
<path d="M630.9 363.2L639.4 371.7L630.9 380.2L622.4 371.7Z" fill="#ec2227" stroke="#ec2227" stroke-width="2" stroke-linejoin="round"/>
<path d="M644.8 369.6L653.3 378.1L644.8 386.6L636.3 378.1Z" fill="#ec2227" stroke="#ec2227" stroke-width="2" stroke-linejoin="round"/>
<path d="M658.6 331.2L667.1 339.7L658.6 348.2L650.1 339.7Z" fill="#ec2227" stroke="#ec2227" stroke-width="2" stroke-linejoin="round"/>
<path d="M134.4 520.5 A3.4 3.4 0 0 1 141.2 520.5 L366 808.5 L340 808.5 L340 858.5 L331.8 858.5 Z" fill="#eeeb48"/>
<rect x="335" y="808" width="486.9" height="472.9" fill="#fff" stroke="#eeeb48" stroke-width="6.5" stroke-linejoin="round"/>
<line x1="404.2" y1="836.8" x2="404.2" y2="1223.9" stroke="#231f20" stroke-width="2.2" stroke-linecap="butt"/>
<line x1="393.5" y1="1223.9" x2="786.5" y2="1223.9" stroke="#231f20" stroke-width="2.2" stroke-linecap="butt"/>
<line x1="393.5" y1="836.8" x2="404.2" y2="836.8" stroke="#231f20" stroke-width="2.2" stroke-linecap="butt"/>
<line x1="393.5" y1="1030.35" x2="404.2" y2="1030.35" stroke="#231f20" stroke-width="2.2" stroke-linecap="butt"/>
<line x1="404.2" y1="1223.9" x2="404.2" y2="1234.7" stroke="#231f20" stroke-width="2.2" stroke-linecap="butt"/>
<line x1="499.5" y1="1223.9" x2="499.5" y2="1234.7" stroke="#231f20" stroke-width="2.2" stroke-linecap="butt"/>
<line x1="594.8" y1="1223.9" x2="594.8" y2="1234.7" stroke="#231f20" stroke-width="2.2" stroke-linecap="butt"/>
<line x1="690.0999999999999" y1="1223.9" x2="690.0999999999999" y2="1234.7" stroke="#231f20" stroke-width="2.2" stroke-linecap="butt"/>
<line x1="785.4" y1="1223.9" x2="785.4" y2="1234.7" stroke="#231f20" stroke-width="2.2" stroke-linecap="butt"/>
<text x="374" y="848.3" font-size="36" text-anchor="end" >9</text>
<text x="374" y="1041.85" font-size="36" text-anchor="end" >8</text>
<text x="374" y="1235.4" font-size="36" text-anchor="end" >7</text>
<text x="404.2" y="1277" font-size="36" text-anchor="middle" >0</text>
<text x="499.5" y="1277" font-size="36" text-anchor="middle" >6</text>
<text x="594.8" y="1277" font-size="36" text-anchor="middle" >12</text>
<text x="690.0999999999999" y="1277" font-size="36" text-anchor="middle" >18</text>
<text x="785.4" y="1277" font-size="36" text-anchor="middle" >24</text>
<line x1="420.1625" y1="919.3" x2="420.1625" y2="940.7" stroke="#231f20" stroke-width="2.6" stroke-linecap="butt"/>
<line x1="413.1625" y1="919.3" x2="427.1625" y2="919.3" stroke="#231f20" stroke-width="2.6" stroke-linecap="butt"/>
<line x1="413.1625" y1="940.7" x2="427.1625" y2="940.7" stroke="#231f20" stroke-width="2.6" stroke-linecap="butt"/>
<line x1="436.02500000000003" y1="937.4" x2="436.02500000000003" y2="972.6" stroke="#231f20" stroke-width="2.6" stroke-linecap="butt"/>
<line x1="429.02500000000003" y1="937.4" x2="443.02500000000003" y2="937.4" stroke="#231f20" stroke-width="2.6" stroke-linecap="butt"/>
<line x1="429.02500000000003" y1="972.6" x2="443.02500000000003" y2="972.6" stroke="#231f20" stroke-width="2.6" stroke-linecap="butt"/>
<line x1="467.75" y1="960.5" x2="467.75" y2="975.5" stroke="#231f20" stroke-width="2.6" stroke-linecap="butt"/>
<line x1="460.75" y1="960.5" x2="474.75" y2="960.5" stroke="#231f20" stroke-width="2.6" stroke-linecap="butt"/>
<line x1="460.75" y1="975.5" x2="474.75" y2="975.5" stroke="#231f20" stroke-width="2.6" stroke-linecap="butt"/>
<line x1="531.2" y1="933.2" x2="531.2" y2="952.8" stroke="#231f20" stroke-width="2.6" stroke-linecap="butt"/>
<line x1="524.2" y1="933.2" x2="538.2" y2="933.2" stroke="#231f20" stroke-width="2.6" stroke-linecap="butt"/>
<line x1="524.2" y1="952.8" x2="538.2" y2="952.8" stroke="#231f20" stroke-width="2.6" stroke-linecap="butt"/>
<path d="M404.3 1023.8C409.6 992.5 414.9 930.0 420.2 930.0C425.5 930.0 430.7 951.3 436.0 955.0C446.6 962.4 457.2 968.0 467.8 968.0C488.9 968.0 510.1 943.0 531.2 943.0C573.5 943.0 615.8 950.9 658.1 954.5C700.4 958.1 742.7 961.2 785.0 964.6" fill="none" stroke="#231f20" stroke-width="7.7" stroke-linejoin="round" stroke-linecap="round"/>
<path d="M404.3 1015.3L412.8 1023.8L404.3 1032.3L395.8 1023.8Z" fill="#231f20" stroke="#231f20" stroke-width="2" stroke-linejoin="round"/>
<path d="M420.2 921.5L428.7 930.0L420.2 938.5L411.7 930.0Z" fill="#231f20" stroke="#231f20" stroke-width="2" stroke-linejoin="round"/>
<path d="M436.0 946.5L444.5 955.0L436.0 963.5L427.5 955.0Z" fill="#231f20" stroke="#231f20" stroke-width="2" stroke-linejoin="round"/>
<path d="M467.8 959.5L476.2 968.0L467.8 976.5L459.2 968.0Z" fill="#231f20" stroke="#231f20" stroke-width="2" stroke-linejoin="round"/>
<path d="M531.2 934.5L539.7 943.0L531.2 951.5L522.7 943.0Z" fill="#231f20" stroke="#231f20" stroke-width="2" stroke-linejoin="round"/>
<path d="M658.1 946.0L666.6 954.5L658.1 963.0L649.6 954.5Z" fill="#231f20" stroke="#231f20" stroke-width="2" stroke-linejoin="round"/>
<path d="M785.0 956.1L793.5 964.6L785.0 973.1L776.5 964.6Z" fill="#231f20" stroke="#231f20" stroke-width="2" stroke-linejoin="round"/>
<path d="M404.3 1023.8C409.6 996.2 414.9 941.0 420.2 941.0C425.5 941.0 430.7 956.0 436.0 959.0C446.6 965.0 457.2 970.0 467.8 970.0C488.9 970.0 510.1 954.1 531.2 952.5C573.5 949.3 615.8 947.5 658.1 947.5C700.4 947.5 742.7 952.5 785.0 955.0" fill="none" stroke="#87888b" stroke-width="7.7" stroke-linejoin="round" stroke-linecap="round"/>
<path d="M404.3 1015.3L412.8 1023.8L404.3 1032.3L395.8 1023.8Z" fill="#87888b" stroke="#87888b" stroke-width="2" stroke-linejoin="round"/>
<path d="M420.2 932.5L428.7 941.0L420.2 949.5L411.7 941.0Z" fill="#87888b" stroke="#87888b" stroke-width="2" stroke-linejoin="round"/>
<path d="M436.0 950.5L444.5 959.0L436.0 967.5L427.5 959.0Z" fill="#87888b" stroke="#87888b" stroke-width="2" stroke-linejoin="round"/>
<path d="M467.8 961.5L476.2 970.0L467.8 978.5L459.2 970.0Z" fill="#87888b" stroke="#87888b" stroke-width="2" stroke-linejoin="round"/>
<path d="M531.2 944.0L539.7 952.5L531.2 961.0L522.7 952.5Z" fill="#87888b" stroke="#87888b" stroke-width="2" stroke-linejoin="round"/>
<path d="M658.1 939.0L666.6 947.5L658.1 956.0L649.6 947.5Z" fill="#87888b" stroke="#87888b" stroke-width="2" stroke-linejoin="round"/>
<path d="M785.0 946.5L793.5 955.0L785.0 963.5L776.5 955.0Z" fill="#87888b" stroke="#87888b" stroke-width="2" stroke-linejoin="round"/>
<line x1="420.1625" y1="891.4" x2="420.1625" y2="908.4" stroke="#1f70b8" stroke-width="2.6" stroke-linecap="butt"/>
<line x1="413.1625" y1="891.4" x2="427.1625" y2="891.4" stroke="#1f70b8" stroke-width="2.6" stroke-linecap="butt"/>
<line x1="413.1625" y1="908.4" x2="427.1625" y2="908.4" stroke="#1f70b8" stroke-width="2.6" stroke-linecap="butt"/>
<line x1="436.02500000000003" y1="908" x2="436.02500000000003" y2="928" stroke="#1f70b8" stroke-width="2.6" stroke-linecap="butt"/>
<line x1="429.02500000000003" y1="908" x2="443.02500000000003" y2="908" stroke="#1f70b8" stroke-width="2.6" stroke-linecap="butt"/>
<line x1="429.02500000000003" y1="928" x2="443.02500000000003" y2="928" stroke="#1f70b8" stroke-width="2.6" stroke-linecap="butt"/>
<line x1="467.75" y1="928.0" x2="467.75" y2="943.0" stroke="#1f70b8" stroke-width="2.6" stroke-linecap="butt"/>
<line x1="460.75" y1="928.0" x2="474.75" y2="928.0" stroke="#1f70b8" stroke-width="2.6" stroke-linecap="butt"/>
<line x1="460.75" y1="943.0" x2="474.75" y2="943.0" stroke="#1f70b8" stroke-width="2.6" stroke-linecap="butt"/>
<line x1="658.1" y1="919" x2="658.1" y2="939" stroke="#1f70b8" stroke-width="2.6" stroke-linecap="butt"/>
<line x1="651.1" y1="919" x2="665.1" y2="919" stroke="#1f70b8" stroke-width="2.6" stroke-linecap="butt"/>
<line x1="651.1" y1="939" x2="665.1" y2="939" stroke="#1f70b8" stroke-width="2.6" stroke-linecap="butt"/>
<line x1="785.0" y1="922.4" x2="785.0" y2="948.4" stroke="#1f70b8" stroke-width="2.6" stroke-linecap="butt"/>
<line x1="778.0" y1="922.4" x2="792.0" y2="922.4" stroke="#1f70b8" stroke-width="2.6" stroke-linecap="butt"/>
<line x1="778.0" y1="948.4" x2="792.0" y2="948.4" stroke="#1f70b8" stroke-width="2.6" stroke-linecap="butt"/>
<path d="M404.3 1148.8C409.6 1065.8 414.9 899.9 420.2 899.9C425.5 899.9 430.7 913.9 436.0 918.0C446.6 926.2 457.2 935.5 467.8 935.5C488.9 935.5 510.1 891.6 531.2 891.6C573.5 891.6 615.8 925.4 658.1 929.0C700.4 932.6 742.7 933.3 785.0 935.4" fill="none" stroke="#1f70b8" stroke-width="7.7" stroke-linejoin="round" stroke-linecap="round"/>
<path d="M404.3 1140.3L412.8 1148.8L404.3 1157.3L395.8 1148.8Z" fill="#1f70b8" stroke="#1f70b8" stroke-width="2" stroke-linejoin="round"/>
<path d="M420.2 891.4L428.7 899.9L420.2 908.4L411.7 899.9Z" fill="#1f70b8" stroke="#1f70b8" stroke-width="2" stroke-linejoin="round"/>
<path d="M436.0 909.5L444.5 918.0L436.0 926.5L427.5 918.0Z" fill="#1f70b8" stroke="#1f70b8" stroke-width="2" stroke-linejoin="round"/>
<path d="M467.8 927.0L476.2 935.5L467.8 944.0L459.2 935.5Z" fill="#1f70b8" stroke="#1f70b8" stroke-width="2" stroke-linejoin="round"/>
<path d="M531.2 883.1L539.7 891.6L531.2 900.1L522.7 891.6Z" fill="#1f70b8" stroke="#1f70b8" stroke-width="2" stroke-linejoin="round"/>
<path d="M658.1 920.5L666.6 929.0L658.1 937.5L649.6 929.0Z" fill="#1f70b8" stroke="#1f70b8" stroke-width="2" stroke-linejoin="round"/>
<path d="M785.0 926.9L793.5 935.4L785.0 943.9L776.5 935.4Z" fill="#1f70b8" stroke="#1f70b8" stroke-width="2" stroke-linejoin="round"/>
<path d="M404.3 1023.8C409.6 991.2 414.9 926.0 420.2 926.0C425.5 926.0 430.7 939.7 436.0 945.0C446.6 955.7 457.2 971.8 467.8 971.8C488.9 971.8 510.1 942.5 531.2 942.5C573.5 942.4 615.8 942.4 658.1 942.4C700.4 942.4 742.7 944.5 785.0 945.5" fill="none" stroke="#ec2227" stroke-width="7.7" stroke-linejoin="round" stroke-linecap="round"/>
<path d="M404.3 1015.3L412.8 1023.8L404.3 1032.3L395.8 1023.8Z" fill="#ec2227" stroke="#ec2227" stroke-width="2" stroke-linejoin="round"/>
<path d="M420.2 917.5L428.7 926.0L420.2 934.5L411.7 926.0Z" fill="#ec2227" stroke="#ec2227" stroke-width="2" stroke-linejoin="round"/>
<path d="M436.0 936.5L444.5 945.0L436.0 953.5L427.5 945.0Z" fill="#ec2227" stroke="#ec2227" stroke-width="2" stroke-linejoin="round"/>
<path d="M467.8 963.3L476.2 971.8L467.8 980.3L459.2 971.8Z" fill="#ec2227" stroke="#ec2227" stroke-width="2" stroke-linejoin="round"/>
<path d="M531.2 934.0L539.7 942.5L531.2 951.0L522.7 942.5Z" fill="#ec2227" stroke="#ec2227" stroke-width="2" stroke-linejoin="round"/>
<path d="M658.1 933.9L666.6 942.4L658.1 950.9L649.6 942.4Z" fill="#ec2227" stroke="#ec2227" stroke-width="2" stroke-linejoin="round"/>
<path d="M785.0 937.0L793.5 945.5L785.0 954.0L776.5 945.5Z" fill="#ec2227" stroke="#ec2227" stroke-width="2" stroke-linejoin="round"/>
<line x1="929" y1="25.7" x2="929" y2="1294.8" stroke="#231f20" stroke-width="2.4" stroke-linecap="butt"/>
<line x1="918.3" y1="1294.8" x2="1622.2" y2="1294.8" stroke="#231f20" stroke-width="2.4" stroke-linecap="butt"/>
<line x1="918.3" y1="25.7" x2="929" y2="25.7" stroke="#231f20" stroke-width="2.4" stroke-linecap="butt"/>
<line x1="918.3" y1="660.25" x2="929" y2="660.25" stroke="#231f20" stroke-width="2.4" stroke-linecap="butt"/>
<line x1="929.0" y1="1294.8" x2="929.0" y2="1305.5" stroke="#231f20" stroke-width="2.4" stroke-linecap="butt"/>
<line x1="1067.4" y1="1294.8" x2="1067.4" y2="1305.5" stroke="#231f20" stroke-width="2.4" stroke-linecap="butt"/>
<line x1="1205.8" y1="1294.8" x2="1205.8" y2="1305.5" stroke="#231f20" stroke-width="2.4" stroke-linecap="butt"/>
<line x1="1344.2" y1="1294.8" x2="1344.2" y2="1305.5" stroke="#231f20" stroke-width="2.4" stroke-linecap="butt"/>
<line x1="1482.6" y1="1294.8" x2="1482.6" y2="1305.5" stroke="#231f20" stroke-width="2.4" stroke-linecap="butt"/>
<line x1="1621.0" y1="1294.8" x2="1621.0" y2="1305.5" stroke="#231f20" stroke-width="2.4" stroke-linecap="butt"/>
<text x="898" y="37" font-size="36" text-anchor="end" >9</text>
<text x="898" y="672" font-size="36" text-anchor="end" >8</text>
<text x="898" y="1306" font-size="36" text-anchor="end" >7</text>
<text x="929.7" y="1348.6" font-size="36" text-anchor="middle" >0</text>
<text x="1070" y="1353.5" font-size="36" text-anchor="middle" >20</text>
<text x="1208" y="1353.5" font-size="36" text-anchor="middle" >40</text>
<text x="1342.8" y="1353.5" font-size="36" text-anchor="middle" >60</text>
<text x="1480.4" y="1353.5" font-size="36" text-anchor="middle" >80</text>
<text x="1611.5" y="1353.5" font-size="36" text-anchor="middle" >100</text>
<text x="1343" y="1396" font-size="36" text-anchor="middle" >Time (days)</text>
<text transform="translate(857,659.5) rotate(-90)" text-anchor="middle" font-size="36">pH</text>
<text x="957" y="41.5" font-size="36" text-anchor="start" >(B)</text>
<line x1="1194.8" y1="31.6" x2="1265.6" y2="31.6" stroke="#231f20" stroke-width="4.8" stroke-linecap="butt"/>
<path d="M1230.2 21.4L1240.7 31.9L1230.2 42.4L1219.7 31.9Z" fill="#231f20" stroke="#231f20" stroke-width="2" stroke-linejoin="round"/>
<text x="1272" y="42" font-size="36" text-anchor="start" >MgY_O in DMEM+FBS</text>
<line x1="1194.8" y1="73" x2="1265.6" y2="73" stroke="#87888b" stroke-width="4.8" stroke-linecap="butt"/>
<path d="M1230.2 62.8L1240.7 73.3L1230.2 83.8L1219.7 73.3Z" fill="#87888b" stroke="#87888b" stroke-width="2" stroke-linejoin="round"/>
<text x="1272" y="85.6" font-size="36" text-anchor="start" >MgY_O in DMEM</text>
<line x1="1194.8" y1="115.4" x2="1265.6" y2="115.4" stroke="#1f70b8" stroke-width="4.8" stroke-linecap="butt"/>
<path d="M1230.2 105.2L1240.7 115.7L1230.2 126.2L1219.7 115.7Z" fill="#1f70b8" stroke="#1f70b8" stroke-width="2" stroke-linejoin="round"/>
<text x="1272" y="127.5" font-size="36" text-anchor="start" >MgY in DMEM+FBS</text>
<line x1="1194.8" y1="161.8" x2="1265.6" y2="161.8" stroke="#ec2227" stroke-width="4.8" stroke-linecap="butt"/>
<path d="M1230.2 151.6L1240.7 162.1L1230.2 172.6L1219.7 162.1Z" fill="#ec2227" stroke="#ec2227" stroke-width="2" stroke-linejoin="round"/>
<text x="1272" y="173.5" font-size="36" text-anchor="start" >MgY in DMEM</text>
<line x1="929.5766666666667" y1="104.6" x2="929.5766666666667" y2="184.6" stroke="#231f20" stroke-width="2.6" stroke-linecap="butt"/>
<line x1="922.5766666666667" y1="104.6" x2="936.5766666666667" y2="104.6" stroke="#231f20" stroke-width="2.6" stroke-linecap="butt"/>
<line x1="922.5766666666667" y1="184.6" x2="936.5766666666667" y2="184.6" stroke="#231f20" stroke-width="2.6" stroke-linecap="butt"/>
<line x1="930.1533333333333" y1="220.2" x2="930.1533333333333" y2="278.2" stroke="#231f20" stroke-width="2.6" stroke-linecap="butt"/>
<line x1="923.1533333333333" y1="220.2" x2="937.1533333333333" y2="220.2" stroke="#231f20" stroke-width="2.6" stroke-linecap="butt"/>
<line x1="923.1533333333333" y1="278.2" x2="937.1533333333333" y2="278.2" stroke="#231f20" stroke-width="2.6" stroke-linecap="butt"/>
<line x1="1032.8" y1="413.5" x2="1032.8" y2="442.5" stroke="#231f20" stroke-width="2.6" stroke-linecap="butt"/>
<line x1="1025.8" y1="413.5" x2="1039.8" y2="413.5" stroke="#231f20" stroke-width="2.6" stroke-linecap="butt"/>
<line x1="1025.8" y1="442.5" x2="1039.8" y2="442.5" stroke="#231f20" stroke-width="2.6" stroke-linecap="butt"/>
<line x1="991.28" y1="400" x2="991.28" y2="420" stroke="#231f20" stroke-width="2.6" stroke-linecap="butt"/>
<line x1="984.28" y1="400" x2="998.28" y2="400" stroke="#231f20" stroke-width="2.6" stroke-linecap="butt"/>
<line x1="984.28" y1="420" x2="998.28" y2="420" stroke="#231f20" stroke-width="2.6" stroke-linecap="butt"/>
<line x1="1005.12" y1="430" x2="1005.12" y2="448" stroke="#231f20" stroke-width="2.6" stroke-linecap="butt"/>
<line x1="998.12" y1="430" x2="1012.12" y2="430" stroke="#231f20" stroke-width="2.6" stroke-linecap="butt"/>
<line x1="998.12" y1="448" x2="1012.12" y2="448" stroke="#231f20" stroke-width="2.6" stroke-linecap="butt"/>
<line x1="1018.96" y1="378" x2="1018.96" y2="394" stroke="#231f20" stroke-width="2.6" stroke-linecap="butt"/>
<line x1="1011.96" y1="378" x2="1025.96" y2="378" stroke="#231f20" stroke-width="2.6" stroke-linecap="butt"/>
<line x1="1011.96" y1="394" x2="1025.96" y2="394" stroke="#231f20" stroke-width="2.6" stroke-linecap="butt"/>
<line x1="977.44" y1="368" x2="977.44" y2="386" stroke="#231f20" stroke-width="2.6" stroke-linecap="butt"/>
<line x1="970.44" y1="368" x2="984.44" y2="368" stroke="#231f20" stroke-width="2.6" stroke-linecap="butt"/>
<line x1="970.44" y1="386" x2="984.44" y2="386" stroke="#231f20" stroke-width="2.6" stroke-linecap="butt"/>
<line x1="949.76" y1="453" x2="949.76" y2="471" stroke="#231f20" stroke-width="2.6" stroke-linecap="butt"/>
<line x1="942.76" y1="453" x2="956.76" y2="453" stroke="#231f20" stroke-width="2.6" stroke-linecap="butt"/>
<line x1="942.76" y1="471" x2="956.76" y2="471" stroke="#231f20" stroke-width="2.6" stroke-linecap="butt"/>
<line x1="963.6" y1="352" x2="963.6" y2="368" stroke="#231f20" stroke-width="2.6" stroke-linecap="butt"/>
<line x1="956.6" y1="352" x2="970.6" y2="352" stroke="#231f20" stroke-width="2.6" stroke-linecap="butt"/>
<line x1="956.6" y1="368" x2="970.6" y2="368" stroke="#231f20" stroke-width="2.6" stroke-linecap="butt"/>
<line x1="1046.64" y1="468" x2="1046.64" y2="484" stroke="#231f20" stroke-width="2.6" stroke-linecap="butt"/>
<line x1="1039.64" y1="468" x2="1053.64" y2="468" stroke="#231f20" stroke-width="2.6" stroke-linecap="butt"/>
<line x1="1039.64" y1="484" x2="1053.64" y2="484" stroke="#231f20" stroke-width="2.6" stroke-linecap="butt"/>
<path d="M929.0 834.0L929.3 365.4M929.3 365.4L929.6 144.6M929.6 144.6L930.2 249.2M930.2 249.2L931.3 333.7M931.3 333.7L933.6 316.0M933.6 316.0L935.9 373.0" fill="none" stroke="#231f20" stroke-width="5.6" stroke-linejoin="round" stroke-linecap="round"/>
<path d="M935.9 373.0C938.0 400.6 940.6 450.8 942.8 465.0C945.1 479.2 946.4 478.8 949.8 462.0C953.1 445.2 959.2 373.6 963.6 360.0C968.0 346.4 973.0 369.0 977.4 377.0C981.9 385.0 986.9 400.1 991.3 410.0C995.7 419.9 1000.7 442.8 1005.1 439.0C1009.5 435.2 1014.5 387.8 1019.0 386.0C1023.4 384.2 1028.4 413.6 1032.8 428.0C1037.2 442.4 1042.2 458.7 1046.6 476.0C1051.1 493.3 1058.3 526.4 1060.5 536.0" fill="none" stroke="#231f20" stroke-width="7.1" stroke-linejoin="round" stroke-linecap="round"/>
<path d="M929.0 825.5L937.5 834.0L929.0 842.5L920.5 834.0Z" fill="#231f20" stroke="#231f20" stroke-width="2" stroke-linejoin="round"/>
<path d="M929.3 356.9L937.8 365.4L929.3 373.9L920.8 365.4Z" fill="#231f20" stroke="#231f20" stroke-width="2" stroke-linejoin="round"/>
<path d="M929.6 136.1L938.1 144.6L929.6 153.1L921.1 144.6Z" fill="#231f20" stroke="#231f20" stroke-width="2" stroke-linejoin="round"/>
<path d="M930.2 240.7L938.7 249.2L930.2 257.7L921.7 249.2Z" fill="#231f20" stroke="#231f20" stroke-width="2" stroke-linejoin="round"/>
<path d="M931.3 325.2L939.8 333.7L931.3 342.2L922.8 333.7Z" fill="#231f20" stroke="#231f20" stroke-width="2" stroke-linejoin="round"/>
<path d="M933.6 307.5L942.1 316.0L933.6 324.5L925.1 316.0Z" fill="#231f20" stroke="#231f20" stroke-width="2" stroke-linejoin="round"/>
<path d="M935.9 364.5L944.4 373.0L935.9 381.5L927.4 373.0Z" fill="#231f20" stroke="#231f20" stroke-width="2" stroke-linejoin="round"/>
<path d="M942.8 456.5L951.3 465.0L942.8 473.5L934.3 465.0Z" fill="#231f20" stroke="#231f20" stroke-width="2" stroke-linejoin="round"/>
<path d="M949.8 453.5L958.3 462.0L949.8 470.5L941.3 462.0Z" fill="#231f20" stroke="#231f20" stroke-width="2" stroke-linejoin="round"/>
<path d="M963.6 351.5L972.1 360.0L963.6 368.5L955.1 360.0Z" fill="#231f20" stroke="#231f20" stroke-width="2" stroke-linejoin="round"/>
<path d="M977.4 368.5L985.9 377.0L977.4 385.5L968.9 377.0Z" fill="#231f20" stroke="#231f20" stroke-width="2" stroke-linejoin="round"/>
<path d="M991.3 401.5L999.8 410.0L991.3 418.5L982.8 410.0Z" fill="#231f20" stroke="#231f20" stroke-width="2" stroke-linejoin="round"/>
<path d="M1005.1 430.5L1013.6 439.0L1005.1 447.5L996.6 439.0Z" fill="#231f20" stroke="#231f20" stroke-width="2" stroke-linejoin="round"/>
<path d="M1019.0 377.5L1027.5 386.0L1019.0 394.5L1010.5 386.0Z" fill="#231f20" stroke="#231f20" stroke-width="2" stroke-linejoin="round"/>
<path d="M1032.8 419.5L1041.3 428.0L1032.8 436.5L1024.3 428.0Z" fill="#231f20" stroke="#231f20" stroke-width="2" stroke-linejoin="round"/>
<path d="M1046.6 467.5L1055.1 476.0L1046.6 484.5L1038.1 476.0Z" fill="#231f20" stroke="#231f20" stroke-width="2" stroke-linejoin="round"/>
<path d="M1060.5 527.5L1069.0 536.0L1060.5 544.5L1052.0 536.0Z" fill="#231f20" stroke="#231f20" stroke-width="2" stroke-linejoin="round"/>
<line x1="929.5766666666667" y1="25.7" x2="929.5766666666667" y2="54.5" stroke="#87888b" stroke-width="2.6" stroke-linecap="butt"/>
<line x1="922.5766666666667" y1="54.5" x2="936.5766666666667" y2="54.5" stroke="#87888b" stroke-width="2.6" stroke-linecap="butt"/>
<line x1="930.1533333333333" y1="90.2" x2="930.1533333333333" y2="138.2" stroke="#87888b" stroke-width="2.6" stroke-linecap="butt"/>
<line x1="923.1533333333333" y1="90.2" x2="937.1533333333333" y2="90.2" stroke="#87888b" stroke-width="2.6" stroke-linecap="butt"/>
<line x1="923.1533333333333" y1="138.2" x2="937.1533333333333" y2="138.2" stroke="#87888b" stroke-width="2.6" stroke-linecap="butt"/>
<line x1="929.2883333333333" y1="160.4" x2="929.2883333333333" y2="196.4" stroke="#87888b" stroke-width="2.6" stroke-linecap="butt"/>
<line x1="922.2883333333333" y1="160.4" x2="936.2883333333333" y2="160.4" stroke="#87888b" stroke-width="2.6" stroke-linecap="butt"/>
<line x1="922.2883333333333" y1="196.4" x2="936.2883333333333" y2="196.4" stroke="#87888b" stroke-width="2.6" stroke-linecap="butt"/>
<line x1="963.6" y1="312" x2="963.6" y2="332" stroke="#87888b" stroke-width="2.6" stroke-linecap="butt"/>
<line x1="956.6" y1="312" x2="970.6" y2="312" stroke="#87888b" stroke-width="2.6" stroke-linecap="butt"/>
<line x1="956.6" y1="332" x2="970.6" y2="332" stroke="#87888b" stroke-width="2.6" stroke-linecap="butt"/>
<line x1="991.28" y1="356" x2="991.28" y2="376" stroke="#87888b" stroke-width="2.6" stroke-linecap="butt"/>
<line x1="984.28" y1="356" x2="998.28" y2="356" stroke="#87888b" stroke-width="2.6" stroke-linecap="butt"/>
<line x1="984.28" y1="376" x2="998.28" y2="376" stroke="#87888b" stroke-width="2.6" stroke-linecap="butt"/>
<line x1="1018.96" y1="366" x2="1018.96" y2="388" stroke="#87888b" stroke-width="2.6" stroke-linecap="butt"/>
<line x1="1011.96" y1="366" x2="1025.96" y2="366" stroke="#87888b" stroke-width="2.6" stroke-linecap="butt"/>
<line x1="1011.96" y1="388" x2="1025.96" y2="388" stroke="#87888b" stroke-width="2.6" stroke-linecap="butt"/>
<line x1="1005.12" y1="396" x2="1005.12" y2="414" stroke="#87888b" stroke-width="2.6" stroke-linecap="butt"/>
<line x1="998.12" y1="396" x2="1012.12" y2="396" stroke="#87888b" stroke-width="2.6" stroke-linecap="butt"/>
<line x1="998.12" y1="414" x2="1012.12" y2="414" stroke="#87888b" stroke-width="2.6" stroke-linecap="butt"/>
<line x1="949.76" y1="438" x2="949.76" y2="456" stroke="#87888b" stroke-width="2.6" stroke-linecap="butt"/>
<line x1="942.76" y1="438" x2="956.76" y2="438" stroke="#87888b" stroke-width="2.6" stroke-linecap="butt"/>
<line x1="942.76" y1="456" x2="956.76" y2="456" stroke="#87888b" stroke-width="2.6" stroke-linecap="butt"/>
<line x1="977.44" y1="345" x2="977.44" y2="361" stroke="#87888b" stroke-width="2.6" stroke-linecap="butt"/>
<line x1="970.44" y1="345" x2="984.44" y2="345" stroke="#87888b" stroke-width="2.6" stroke-linecap="butt"/>
<line x1="970.44" y1="361" x2="984.44" y2="361" stroke="#87888b" stroke-width="2.6" stroke-linecap="butt"/>
<path d="M929.0 834.0L929.3 178.4M929.3 178.4L929.6 34.5M929.6 34.5L930.2 114.2M930.2 114.2L931.3 249.2M931.3 249.2L933.6 287.5M933.6 287.5L935.9 292.1" fill="none" stroke="#87888b" stroke-width="5.6" stroke-linejoin="round" stroke-linecap="round"/>
<path d="M935.9 292.1C938.0 337.1 940.6 417.2 942.8 442.0C945.1 466.8 946.4 466.2 949.8 447.0C953.1 427.8 959.2 337.0 963.6 322.0C968.0 307.0 973.0 346.0 977.4 353.0C981.9 360.0 986.9 357.7 991.3 366.0C995.7 374.3 1000.7 403.2 1005.1 405.0C1009.5 406.8 1016.7 381.5 1019.0 377.0" fill="none" stroke="#87888b" stroke-width="7.1" stroke-linejoin="round" stroke-linecap="round"/>
<path d="M929.0 825.5L937.5 834.0L929.0 842.5L920.5 834.0Z" fill="#87888b" stroke="#87888b" stroke-width="2" stroke-linejoin="round"/>
<path d="M929.3 169.9L937.8 178.4L929.3 186.9L920.8 178.4Z" fill="#87888b" stroke="#87888b" stroke-width="2" stroke-linejoin="round"/>
<path d="M929.6 26.0L938.1 34.5L929.6 43.0L921.1 34.5Z" fill="#87888b" stroke="#87888b" stroke-width="2" stroke-linejoin="round"/>
<path d="M930.2 105.7L938.7 114.2L930.2 122.7L921.7 114.2Z" fill="#87888b" stroke="#87888b" stroke-width="2" stroke-linejoin="round"/>
<path d="M931.3 240.7L939.8 249.2L931.3 257.7L922.8 249.2Z" fill="#87888b" stroke="#87888b" stroke-width="2" stroke-linejoin="round"/>
<path d="M933.6 279.0L942.1 287.5L933.6 296.0L925.1 287.5Z" fill="#87888b" stroke="#87888b" stroke-width="2" stroke-linejoin="round"/>
<path d="M935.9 283.6L944.4 292.1L935.9 300.6L927.4 292.1Z" fill="#87888b" stroke="#87888b" stroke-width="2" stroke-linejoin="round"/>
<path d="M942.8 433.5L951.3 442.0L942.8 450.5L934.3 442.0Z" fill="#87888b" stroke="#87888b" stroke-width="2" stroke-linejoin="round"/>
<path d="M949.8 438.5L958.3 447.0L949.8 455.5L941.3 447.0Z" fill="#87888b" stroke="#87888b" stroke-width="2" stroke-linejoin="round"/>
<path d="M963.6 313.5L972.1 322.0L963.6 330.5L955.1 322.0Z" fill="#87888b" stroke="#87888b" stroke-width="2" stroke-linejoin="round"/>
<path d="M977.4 344.5L985.9 353.0L977.4 361.5L968.9 353.0Z" fill="#87888b" stroke="#87888b" stroke-width="2" stroke-linejoin="round"/>
<path d="M991.3 357.5L999.8 366.0L991.3 374.5L982.8 366.0Z" fill="#87888b" stroke="#87888b" stroke-width="2" stroke-linejoin="round"/>
<path d="M1005.1 396.5L1013.6 405.0L1005.1 413.5L996.6 405.0Z" fill="#87888b" stroke="#87888b" stroke-width="2" stroke-linejoin="round"/>
<path d="M1019.0 368.5L1027.5 377.0L1019.0 385.5L1010.5 377.0Z" fill="#87888b" stroke="#87888b" stroke-width="2" stroke-linejoin="round"/>
<line x1="1060.48" y1="507.20000000000005" x2="1060.48" y2="587.2" stroke="#1f70b8" stroke-width="2.6" stroke-linecap="butt"/>
<line x1="1053.48" y1="507.20000000000005" x2="1067.48" y2="507.20000000000005" stroke="#1f70b8" stroke-width="2.6" stroke-linecap="butt"/>
<line x1="1053.48" y1="587.2" x2="1067.48" y2="587.2" stroke="#1f70b8" stroke-width="2.6" stroke-linecap="butt"/>
<line x1="1102.0" y1="611.3" x2="1102.0" y2="631.3" stroke="#1f70b8" stroke-width="2.6" stroke-linecap="butt"/>
<line x1="1095.0" y1="611.3" x2="1109.0" y2="611.3" stroke="#1f70b8" stroke-width="2.6" stroke-linecap="butt"/>
<line x1="1095.0" y1="631.3" x2="1109.0" y2="631.3" stroke="#1f70b8" stroke-width="2.6" stroke-linecap="butt"/>
<line x1="1115.84" y1="617.2" x2="1115.84" y2="673.2" stroke="#1f70b8" stroke-width="2.6" stroke-linecap="butt"/>
<line x1="1108.84" y1="617.2" x2="1122.84" y2="617.2" stroke="#1f70b8" stroke-width="2.6" stroke-linecap="butt"/>
<line x1="1108.84" y1="673.2" x2="1122.84" y2="673.2" stroke="#1f70b8" stroke-width="2.6" stroke-linecap="butt"/>
<line x1="1046.64" y1="504.4" x2="1046.64" y2="520.4" stroke="#1f70b8" stroke-width="2.6" stroke-linecap="butt"/>
<line x1="1039.64" y1="504.4" x2="1053.64" y2="504.4" stroke="#1f70b8" stroke-width="2.6" stroke-linecap="butt"/>
<line x1="1039.64" y1="520.4" x2="1053.64" y2="520.4" stroke="#1f70b8" stroke-width="2.6" stroke-linecap="butt"/>
<line x1="1074.32" y1="542.8" x2="1074.32" y2="558.8" stroke="#1f70b8" stroke-width="2.6" stroke-linecap="butt"/>
<line x1="1067.32" y1="542.8" x2="1081.32" y2="542.8" stroke="#1f70b8" stroke-width="2.6" stroke-linecap="butt"/>
<line x1="1067.32" y1="558.8" x2="1081.32" y2="558.8" stroke="#1f70b8" stroke-width="2.6" stroke-linecap="butt"/>
<line x1="1005.12" y1="466" x2="1005.12" y2="484" stroke="#1f70b8" stroke-width="2.6" stroke-linecap="butt"/>
<line x1="998.12" y1="466" x2="1012.12" y2="466" stroke="#1f70b8" stroke-width="2.6" stroke-linecap="butt"/>
<line x1="998.12" y1="484" x2="1012.12" y2="484" stroke="#1f70b8" stroke-width="2.6" stroke-linecap="butt"/>
<line x1="1018.96" y1="397" x2="1018.96" y2="413" stroke="#1f70b8" stroke-width="2.6" stroke-linecap="butt"/>
<line x1="1011.96" y1="397" x2="1025.96" y2="397" stroke="#1f70b8" stroke-width="2.6" stroke-linecap="butt"/>
<line x1="1011.96" y1="413" x2="1025.96" y2="413" stroke="#1f70b8" stroke-width="2.6" stroke-linecap="butt"/>
<line x1="977.44" y1="404" x2="977.44" y2="420" stroke="#1f70b8" stroke-width="2.6" stroke-linecap="butt"/>
<line x1="970.44" y1="404" x2="984.44" y2="404" stroke="#1f70b8" stroke-width="2.6" stroke-linecap="butt"/>
<line x1="970.44" y1="420" x2="984.44" y2="420" stroke="#1f70b8" stroke-width="2.6" stroke-linecap="butt"/>
<line x1="991.28" y1="427" x2="991.28" y2="443" stroke="#1f70b8" stroke-width="2.6" stroke-linecap="butt"/>
<line x1="984.28" y1="427" x2="998.28" y2="427" stroke="#1f70b8" stroke-width="2.6" stroke-linecap="butt"/>
<line x1="984.28" y1="443" x2="998.28" y2="443" stroke="#1f70b8" stroke-width="2.6" stroke-linecap="butt"/>
<path d="M929.0 891.0L929.3 475.6M929.3 475.6L929.6 360.9M929.6 360.9L930.2 411.4M930.2 411.4L931.3 419.5M931.3 419.5L933.6 390.7M933.6 390.7L935.9 468.0" fill="none" stroke="#1f70b8" stroke-width="5.6" stroke-linejoin="round" stroke-linecap="round"/>
<path d="M935.9 468.0C938.0 478.2 940.6 496.4 942.8 502.0C945.1 507.6 946.4 522.1 949.8 503.0C953.1 483.9 959.2 397.2 963.6 382.6C968.0 368.0 973.0 403.6 977.4 412.0C981.9 420.4 986.9 424.9 991.3 435.0C995.7 445.1 1000.7 479.8 1005.1 475.0C1009.5 470.2 1014.5 412.2 1019.0 405.0C1023.4 397.8 1028.4 412.8 1032.8 430.0C1037.2 447.2 1042.2 493.6 1046.6 512.4C1051.1 531.2 1056.1 541.1 1060.5 547.2C1064.9 553.3 1069.9 550.7 1074.3 550.8C1078.7 550.9 1083.7 536.7 1088.2 548.0C1092.6 559.3 1097.6 605.7 1102.0 621.3C1106.4 636.9 1111.4 639.2 1115.8 645.2C1120.3 651.2 1125.3 647.3 1129.7 658.9C1134.1 670.5 1139.1 714.9 1143.5 718.0C1147.9 721.1 1152.9 684.4 1157.4 678.2C1161.8 672.0 1166.8 682.4 1171.2 679.3C1175.6 676.2 1182.8 662.2 1185.0 658.9" fill="none" stroke="#1f70b8" stroke-width="7.1" stroke-linejoin="round" stroke-linecap="round"/>
<path d="M929.0 882.5L937.5 891.0L929.0 899.5L920.5 891.0Z" fill="#1f70b8" stroke="#1f70b8" stroke-width="2" stroke-linejoin="round"/>
<path d="M929.3 467.1L937.8 475.6L929.3 484.1L920.8 475.6Z" fill="#1f70b8" stroke="#1f70b8" stroke-width="2" stroke-linejoin="round"/>
<path d="M929.6 352.4L938.1 360.9L929.6 369.4L921.1 360.9Z" fill="#1f70b8" stroke="#1f70b8" stroke-width="2" stroke-linejoin="round"/>
<path d="M930.2 402.9L938.7 411.4L930.2 419.9L921.7 411.4Z" fill="#1f70b8" stroke="#1f70b8" stroke-width="2" stroke-linejoin="round"/>
<path d="M931.3 411.0L939.8 419.5L931.3 428.0L922.8 419.5Z" fill="#1f70b8" stroke="#1f70b8" stroke-width="2" stroke-linejoin="round"/>
<path d="M933.6 382.2L942.1 390.7L933.6 399.2L925.1 390.7Z" fill="#1f70b8" stroke="#1f70b8" stroke-width="2" stroke-linejoin="round"/>
<path d="M935.9 459.5L944.4 468.0L935.9 476.5L927.4 468.0Z" fill="#1f70b8" stroke="#1f70b8" stroke-width="2" stroke-linejoin="round"/>
<path d="M942.8 493.5L951.3 502.0L942.8 510.5L934.3 502.0Z" fill="#1f70b8" stroke="#1f70b8" stroke-width="2" stroke-linejoin="round"/>
<path d="M949.8 494.5L958.3 503.0L949.8 511.5L941.3 503.0Z" fill="#1f70b8" stroke="#1f70b8" stroke-width="2" stroke-linejoin="round"/>
<path d="M963.6 374.1L972.1 382.6L963.6 391.1L955.1 382.6Z" fill="#1f70b8" stroke="#1f70b8" stroke-width="2" stroke-linejoin="round"/>
<path d="M977.4 403.5L985.9 412.0L977.4 420.5L968.9 412.0Z" fill="#1f70b8" stroke="#1f70b8" stroke-width="2" stroke-linejoin="round"/>
<path d="M991.3 426.5L999.8 435.0L991.3 443.5L982.8 435.0Z" fill="#1f70b8" stroke="#1f70b8" stroke-width="2" stroke-linejoin="round"/>
<path d="M1005.1 466.5L1013.6 475.0L1005.1 483.5L996.6 475.0Z" fill="#1f70b8" stroke="#1f70b8" stroke-width="2" stroke-linejoin="round"/>
<path d="M1019.0 396.5L1027.5 405.0L1019.0 413.5L1010.5 405.0Z" fill="#1f70b8" stroke="#1f70b8" stroke-width="2" stroke-linejoin="round"/>
<path d="M1032.8 421.5L1041.3 430.0L1032.8 438.5L1024.3 430.0Z" fill="#1f70b8" stroke="#1f70b8" stroke-width="2" stroke-linejoin="round"/>
<path d="M1046.6 503.9L1055.1 512.4L1046.6 520.9L1038.1 512.4Z" fill="#1f70b8" stroke="#1f70b8" stroke-width="2" stroke-linejoin="round"/>
<path d="M1060.5 538.7L1069.0 547.2L1060.5 555.7L1052.0 547.2Z" fill="#1f70b8" stroke="#1f70b8" stroke-width="2" stroke-linejoin="round"/>
<path d="M1074.3 542.3L1082.8 550.8L1074.3 559.3L1065.8 550.8Z" fill="#1f70b8" stroke="#1f70b8" stroke-width="2" stroke-linejoin="round"/>
<path d="M1088.2 539.5L1096.7 548.0L1088.2 556.5L1079.7 548.0Z" fill="#1f70b8" stroke="#1f70b8" stroke-width="2" stroke-linejoin="round"/>
<path d="M1102.0 612.8L1110.5 621.3L1102.0 629.8L1093.5 621.3Z" fill="#1f70b8" stroke="#1f70b8" stroke-width="2" stroke-linejoin="round"/>
<path d="M1115.8 636.7L1124.3 645.2L1115.8 653.7L1107.3 645.2Z" fill="#1f70b8" stroke="#1f70b8" stroke-width="2" stroke-linejoin="round"/>
<path d="M1129.7 650.4L1138.2 658.9L1129.7 667.4L1121.2 658.9Z" fill="#1f70b8" stroke="#1f70b8" stroke-width="2" stroke-linejoin="round"/>
<path d="M1143.5 709.5L1152.0 718.0L1143.5 726.5L1135.0 718.0Z" fill="#1f70b8" stroke="#1f70b8" stroke-width="2" stroke-linejoin="round"/>
<path d="M1157.4 669.7L1165.9 678.2L1157.4 686.7L1148.9 678.2Z" fill="#1f70b8" stroke="#1f70b8" stroke-width="2" stroke-linejoin="round"/>
<path d="M1171.2 670.8L1179.7 679.3L1171.2 687.8L1162.7 679.3Z" fill="#1f70b8" stroke="#1f70b8" stroke-width="2" stroke-linejoin="round"/>
<path d="M1185.0 650.4L1193.5 658.9L1185.0 667.4L1176.5 658.9Z" fill="#1f70b8" stroke="#1f70b8" stroke-width="2" stroke-linejoin="round"/>
<line x1="1212.72" y1="618.8" x2="1212.72" y2="651.8" stroke="#ec2227" stroke-width="2.6" stroke-linecap="butt"/>
<line x1="1205.72" y1="618.8" x2="1219.72" y2="618.8" stroke="#ec2227" stroke-width="2.6" stroke-linecap="butt"/>
<line x1="1205.72" y1="651.8" x2="1219.72" y2="651.8" stroke="#ec2227" stroke-width="2.6" stroke-linecap="butt"/>
<line x1="1226.56" y1="526.8" x2="1226.56" y2="543.8" stroke="#ec2227" stroke-width="2.6" stroke-linecap="butt"/>
<line x1="1219.56" y1="526.8" x2="1233.56" y2="526.8" stroke="#ec2227" stroke-width="2.6" stroke-linecap="butt"/>
<line x1="1219.56" y1="543.8" x2="1233.56" y2="543.8" stroke="#ec2227" stroke-width="2.6" stroke-linecap="butt"/>
<line x1="1240.4" y1="596.9" x2="1240.4" y2="630.9" stroke="#ec2227" stroke-width="2.6" stroke-linecap="butt"/>
<line x1="1233.4" y1="596.9" x2="1247.4" y2="596.9" stroke="#ec2227" stroke-width="2.6" stroke-linecap="butt"/>
<line x1="1233.4" y1="630.9" x2="1247.4" y2="630.9" stroke="#ec2227" stroke-width="2.6" stroke-linecap="butt"/>
<line x1="1254.24" y1="432.0" x2="1254.24" y2="457.4" stroke="#ec2227" stroke-width="2.6" stroke-linecap="butt"/>
<line x1="1247.24" y1="432.0" x2="1261.24" y2="432.0" stroke="#ec2227" stroke-width="2.6" stroke-linecap="butt"/>
<line x1="1247.24" y1="457.4" x2="1261.24" y2="457.4" stroke="#ec2227" stroke-width="2.6" stroke-linecap="butt"/>
<line x1="1268.08" y1="436.9" x2="1268.08" y2="471.9" stroke="#ec2227" stroke-width="2.6" stroke-linecap="butt"/>
<line x1="1261.08" y1="436.9" x2="1275.08" y2="436.9" stroke="#ec2227" stroke-width="2.6" stroke-linecap="butt"/>
<line x1="1261.08" y1="471.9" x2="1275.08" y2="471.9" stroke="#ec2227" stroke-width="2.6" stroke-linecap="butt"/>
<line x1="1281.92" y1="443.6" x2="1281.92" y2="467.6" stroke="#ec2227" stroke-width="2.6" stroke-linecap="butt"/>
<line x1="1274.92" y1="443.6" x2="1288.92" y2="443.6" stroke="#ec2227" stroke-width="2.6" stroke-linecap="butt"/>
<line x1="1274.92" y1="467.6" x2="1288.92" y2="467.6" stroke="#ec2227" stroke-width="2.6" stroke-linecap="butt"/>
<line x1="1295.76" y1="445" x2="1295.76" y2="471" stroke="#ec2227" stroke-width="2.6" stroke-linecap="butt"/>
<line x1="1288.76" y1="445" x2="1302.76" y2="445" stroke="#ec2227" stroke-width="2.6" stroke-linecap="butt"/>
<line x1="1288.76" y1="471" x2="1302.76" y2="471" stroke="#ec2227" stroke-width="2.6" stroke-linecap="butt"/>
<line x1="1309.6" y1="470.8" x2="1309.6" y2="500.8" stroke="#ec2227" stroke-width="2.6" stroke-linecap="butt"/>
<line x1="1302.6" y1="470.8" x2="1316.6" y2="470.8" stroke="#ec2227" stroke-width="2.6" stroke-linecap="butt"/>
<line x1="1302.6" y1="500.8" x2="1316.6" y2="500.8" stroke="#ec2227" stroke-width="2.6" stroke-linecap="butt"/>
<line x1="1323.44" y1="453.20000000000005" x2="1323.44" y2="470.0" stroke="#ec2227" stroke-width="2.6" stroke-linecap="butt"/>
<line x1="1316.44" y1="453.20000000000005" x2="1330.44" y2="453.20000000000005" stroke="#ec2227" stroke-width="2.6" stroke-linecap="butt"/>
<line x1="1316.44" y1="470.0" x2="1330.44" y2="470.0" stroke="#ec2227" stroke-width="2.6" stroke-linecap="butt"/>
<line x1="1337.28" y1="484.4" x2="1337.28" y2="540.4" stroke="#ec2227" stroke-width="2.6" stroke-linecap="butt"/>
<line x1="1330.28" y1="484.4" x2="1344.28" y2="484.4" stroke="#ec2227" stroke-width="2.6" stroke-linecap="butt"/>
<line x1="1330.28" y1="540.4" x2="1344.28" y2="540.4" stroke="#ec2227" stroke-width="2.6" stroke-linecap="butt"/>
<line x1="1351.12" y1="478.2" x2="1351.12" y2="510.2" stroke="#ec2227" stroke-width="2.6" stroke-linecap="butt"/>
<line x1="1344.12" y1="478.2" x2="1358.12" y2="478.2" stroke="#ec2227" stroke-width="2.6" stroke-linecap="butt"/>
<line x1="1344.12" y1="510.2" x2="1358.12" y2="510.2" stroke="#ec2227" stroke-width="2.6" stroke-linecap="butt"/>
<line x1="1364.96" y1="473.2" x2="1364.96" y2="503.2" stroke="#ec2227" stroke-width="2.6" stroke-linecap="butt"/>
<line x1="1357.96" y1="473.2" x2="1371.96" y2="473.2" stroke="#ec2227" stroke-width="2.6" stroke-linecap="butt"/>
<line x1="1357.96" y1="503.2" x2="1371.96" y2="503.2" stroke="#ec2227" stroke-width="2.6" stroke-linecap="butt"/>
<line x1="1378.8" y1="482.1" x2="1378.8" y2="528.1" stroke="#ec2227" stroke-width="2.6" stroke-linecap="butt"/>
<line x1="1371.8" y1="482.1" x2="1385.8" y2="482.1" stroke="#ec2227" stroke-width="2.6" stroke-linecap="butt"/>
<line x1="1371.8" y1="528.1" x2="1385.8" y2="528.1" stroke="#ec2227" stroke-width="2.6" stroke-linecap="butt"/>
<line x1="1143.52" y1="567" x2="1143.52" y2="587" stroke="#ec2227" stroke-width="2.6" stroke-linecap="butt"/>
<line x1="1136.52" y1="567" x2="1150.52" y2="567" stroke="#ec2227" stroke-width="2.6" stroke-linecap="butt"/>
<line x1="1136.52" y1="587" x2="1150.52" y2="587" stroke="#ec2227" stroke-width="2.6" stroke-linecap="butt"/>
<line x1="1157.36" y1="554.2" x2="1157.36" y2="570.2" stroke="#ec2227" stroke-width="2.6" stroke-linecap="butt"/>
<line x1="1150.36" y1="554.2" x2="1164.36" y2="554.2" stroke="#ec2227" stroke-width="2.6" stroke-linecap="butt"/>
<line x1="1150.36" y1="570.2" x2="1164.36" y2="570.2" stroke="#ec2227" stroke-width="2.6" stroke-linecap="butt"/>
<line x1="1171.2" y1="543" x2="1171.2" y2="561" stroke="#ec2227" stroke-width="2.6" stroke-linecap="butt"/>
<line x1="1164.2" y1="543" x2="1178.2" y2="543" stroke="#ec2227" stroke-width="2.6" stroke-linecap="butt"/>
<line x1="1164.2" y1="561" x2="1178.2" y2="561" stroke="#ec2227" stroke-width="2.6" stroke-linecap="butt"/>
<line x1="1060.48" y1="510" x2="1060.48" y2="534" stroke="#ec2227" stroke-width="2.6" stroke-linecap="butt"/>
<line x1="1053.48" y1="510" x2="1067.48" y2="510" stroke="#ec2227" stroke-width="2.6" stroke-linecap="butt"/>
<line x1="1053.48" y1="534" x2="1067.48" y2="534" stroke="#ec2227" stroke-width="2.6" stroke-linecap="butt"/>
<line x1="1074.32" y1="527" x2="1074.32" y2="543" stroke="#ec2227" stroke-width="2.6" stroke-linecap="butt"/>
<line x1="1067.32" y1="527" x2="1081.32" y2="527" stroke="#ec2227" stroke-width="2.6" stroke-linecap="butt"/>
<line x1="1067.32" y1="543" x2="1081.32" y2="543" stroke="#ec2227" stroke-width="2.6" stroke-linecap="butt"/>
<line x1="1102.0" y1="528" x2="1102.0" y2="542" stroke="#ec2227" stroke-width="2.6" stroke-linecap="butt"/>
<line x1="1095.0" y1="528" x2="1109.0" y2="528" stroke="#ec2227" stroke-width="2.6" stroke-linecap="butt"/>
<line x1="1095.0" y1="542" x2="1109.0" y2="542" stroke="#ec2227" stroke-width="2.6" stroke-linecap="butt"/>
<line x1="1032.8" y1="430.7" x2="1032.8" y2="446.7" stroke="#ec2227" stroke-width="2.6" stroke-linecap="butt"/>
<line x1="1025.8" y1="430.7" x2="1039.8" y2="430.7" stroke="#ec2227" stroke-width="2.6" stroke-linecap="butt"/>
<line x1="1025.8" y1="446.7" x2="1039.8" y2="446.7" stroke="#ec2227" stroke-width="2.6" stroke-linecap="butt"/>
<line x1="991.28" y1="458" x2="991.28" y2="472" stroke="#ec2227" stroke-width="2.6" stroke-linecap="butt"/>
<line x1="984.28" y1="458" x2="998.28" y2="458" stroke="#ec2227" stroke-width="2.6" stroke-linecap="butt"/>
<line x1="984.28" y1="472" x2="998.28" y2="472" stroke="#ec2227" stroke-width="2.6" stroke-linecap="butt"/>
<line x1="949.76" y1="519" x2="949.76" y2="535" stroke="#ec2227" stroke-width="2.6" stroke-linecap="butt"/>
<line x1="942.76" y1="519" x2="956.76" y2="519" stroke="#ec2227" stroke-width="2.6" stroke-linecap="butt"/>
<line x1="942.76" y1="535" x2="956.76" y2="535" stroke="#ec2227" stroke-width="2.6" stroke-linecap="butt"/>
<path d="M929.0 833.7L929.3 273.1M929.3 273.1L929.6 259.3M929.6 259.3L930.2 370.7M930.2 370.7L931.3 424.8M931.3 424.8L933.6 450.4M933.6 450.4L935.9 450.4" fill="none" stroke="#ec2227" stroke-width="5.6" stroke-linejoin="round" stroke-linecap="round"/>
<path d="M935.9 450.4C938.0 462.9 940.6 479.7 942.8 492.0C945.1 504.3 946.4 538.2 949.8 527.0C953.1 515.8 959.2 434.7 963.6 422.0C968.0 409.3 973.0 440.6 977.4 447.5C981.9 454.4 986.9 458.8 991.3 465.0C995.7 471.2 1000.7 487.0 1005.1 486.5C1009.5 486.0 1014.5 469.6 1019.0 462.0C1023.4 454.4 1028.4 438.1 1032.8 438.7C1037.2 439.3 1042.2 452.3 1046.6 465.6C1051.1 478.9 1056.1 510.9 1060.5 522.0C1064.9 533.1 1069.9 530.5 1074.3 535.0C1078.7 539.5 1083.7 550.0 1088.2 550.0C1092.6 550.0 1097.6 539.6 1102.0 535.0C1106.4 530.4 1111.4 521.6 1115.8 521.0C1120.3 520.4 1125.3 522.5 1129.7 531.5C1134.1 540.5 1139.1 572.1 1143.5 577.0C1147.9 581.9 1152.9 566.2 1157.4 562.2C1161.8 558.2 1166.8 557.0 1171.2 552.0C1175.6 547.0 1180.6 526.6 1185.0 531.0C1189.5 535.4 1194.5 562.9 1198.9 579.6C1203.3 596.3 1208.3 642.4 1212.7 635.3C1217.1 628.2 1222.1 538.7 1226.6 535.3C1231.0 531.9 1236.0 628.4 1240.4 613.9C1244.8 599.4 1249.8 470.2 1254.2 444.7C1258.7 419.2 1263.7 452.7 1268.1 454.4C1272.5 456.1 1277.5 455.0 1281.9 455.6C1286.3 456.2 1291.3 453.2 1295.8 458.0C1300.2 462.8 1305.2 485.2 1309.6 485.8C1314.0 486.4 1319.0 457.3 1323.4 461.6C1327.9 465.9 1332.9 507.2 1337.3 512.4C1341.7 517.6 1346.7 498.1 1351.1 494.2C1355.5 490.3 1360.5 486.5 1365.0 488.2C1369.4 489.9 1374.4 511.3 1378.8 505.1C1383.2 498.9 1388.2 447.9 1392.6 449.5C1397.1 451.1 1402.1 502.6 1406.5 514.8C1410.9 527.0 1415.9 519.7 1420.3 525.7C1424.7 531.7 1429.7 547.0 1434.2 552.2C1438.6 557.4 1443.6 554.0 1448.0 558.3C1452.4 562.6 1457.4 577.6 1461.8 578.8C1466.3 580.0 1471.3 564.7 1475.7 565.5C1480.1 566.3 1485.1 571.5 1489.5 583.7C1493.9 595.9 1501.1 632.4 1503.4 641.7" fill="none" stroke="#ec2227" stroke-width="7.1" stroke-linejoin="round" stroke-linecap="round"/>
<path d="M929.0 825.2L937.5 833.7L929.0 842.2L920.5 833.7Z" fill="#ec2227" stroke="#ec2227" stroke-width="2" stroke-linejoin="round"/>
<path d="M929.3 264.6L937.8 273.1L929.3 281.6L920.8 273.1Z" fill="#ec2227" stroke="#ec2227" stroke-width="2" stroke-linejoin="round"/>
<path d="M929.6 250.8L938.1 259.3L929.6 267.8L921.1 259.3Z" fill="#ec2227" stroke="#ec2227" stroke-width="2" stroke-linejoin="round"/>
<path d="M930.2 362.2L938.7 370.7L930.2 379.2L921.7 370.7Z" fill="#ec2227" stroke="#ec2227" stroke-width="2" stroke-linejoin="round"/>
<path d="M931.3 416.3L939.8 424.8L931.3 433.3L922.8 424.8Z" fill="#ec2227" stroke="#ec2227" stroke-width="2" stroke-linejoin="round"/>
<path d="M933.6 441.9L942.1 450.4L933.6 458.9L925.1 450.4Z" fill="#ec2227" stroke="#ec2227" stroke-width="2" stroke-linejoin="round"/>
<path d="M935.9 441.9L944.4 450.4L935.9 458.9L927.4 450.4Z" fill="#ec2227" stroke="#ec2227" stroke-width="2" stroke-linejoin="round"/>
<path d="M942.8 483.5L951.3 492.0L942.8 500.5L934.3 492.0Z" fill="#ec2227" stroke="#ec2227" stroke-width="2" stroke-linejoin="round"/>
<path d="M949.8 518.5L958.3 527.0L949.8 535.5L941.3 527.0Z" fill="#ec2227" stroke="#ec2227" stroke-width="2" stroke-linejoin="round"/>
<path d="M963.6 413.5L972.1 422.0L963.6 430.5L955.1 422.0Z" fill="#ec2227" stroke="#ec2227" stroke-width="2" stroke-linejoin="round"/>
<path d="M977.4 439.0L985.9 447.5L977.4 456.0L968.9 447.5Z" fill="#ec2227" stroke="#ec2227" stroke-width="2" stroke-linejoin="round"/>
<path d="M991.3 456.5L999.8 465.0L991.3 473.5L982.8 465.0Z" fill="#ec2227" stroke="#ec2227" stroke-width="2" stroke-linejoin="round"/>
<path d="M1005.1 478.0L1013.6 486.5L1005.1 495.0L996.6 486.5Z" fill="#ec2227" stroke="#ec2227" stroke-width="2" stroke-linejoin="round"/>
<path d="M1019.0 453.5L1027.5 462.0L1019.0 470.5L1010.5 462.0Z" fill="#ec2227" stroke="#ec2227" stroke-width="2" stroke-linejoin="round"/>
<path d="M1032.8 430.2L1041.3 438.7L1032.8 447.2L1024.3 438.7Z" fill="#ec2227" stroke="#ec2227" stroke-width="2" stroke-linejoin="round"/>
<path d="M1046.6 457.1L1055.1 465.6L1046.6 474.1L1038.1 465.6Z" fill="#ec2227" stroke="#ec2227" stroke-width="2" stroke-linejoin="round"/>
<path d="M1060.5 513.5L1069.0 522.0L1060.5 530.5L1052.0 522.0Z" fill="#ec2227" stroke="#ec2227" stroke-width="2" stroke-linejoin="round"/>
<path d="M1074.3 526.5L1082.8 535.0L1074.3 543.5L1065.8 535.0Z" fill="#ec2227" stroke="#ec2227" stroke-width="2" stroke-linejoin="round"/>
<path d="M1088.2 541.5L1096.7 550.0L1088.2 558.5L1079.7 550.0Z" fill="#ec2227" stroke="#ec2227" stroke-width="2" stroke-linejoin="round"/>
<path d="M1102.0 526.5L1110.5 535.0L1102.0 543.5L1093.5 535.0Z" fill="#ec2227" stroke="#ec2227" stroke-width="2" stroke-linejoin="round"/>
<path d="M1115.8 512.5L1124.3 521.0L1115.8 529.5L1107.3 521.0Z" fill="#ec2227" stroke="#ec2227" stroke-width="2" stroke-linejoin="round"/>
<path d="M1129.7 523.0L1138.2 531.5L1129.7 540.0L1121.2 531.5Z" fill="#ec2227" stroke="#ec2227" stroke-width="2" stroke-linejoin="round"/>
<path d="M1143.5 568.5L1152.0 577.0L1143.5 585.5L1135.0 577.0Z" fill="#ec2227" stroke="#ec2227" stroke-width="2" stroke-linejoin="round"/>
<path d="M1157.4 553.7L1165.9 562.2L1157.4 570.7L1148.9 562.2Z" fill="#ec2227" stroke="#ec2227" stroke-width="2" stroke-linejoin="round"/>
<path d="M1171.2 543.5L1179.7 552.0L1171.2 560.5L1162.7 552.0Z" fill="#ec2227" stroke="#ec2227" stroke-width="2" stroke-linejoin="round"/>
<path d="M1185.0 522.5L1193.5 531.0L1185.0 539.5L1176.5 531.0Z" fill="#ec2227" stroke="#ec2227" stroke-width="2" stroke-linejoin="round"/>
<path d="M1198.9 571.1L1207.4 579.6L1198.9 588.1L1190.4 579.6Z" fill="#ec2227" stroke="#ec2227" stroke-width="2" stroke-linejoin="round"/>
<path d="M1212.7 626.8L1221.2 635.3L1212.7 643.8L1204.2 635.3Z" fill="#ec2227" stroke="#ec2227" stroke-width="2" stroke-linejoin="round"/>
<path d="M1226.6 526.8L1235.1 535.3L1226.6 543.8L1218.1 535.3Z" fill="#ec2227" stroke="#ec2227" stroke-width="2" stroke-linejoin="round"/>
<path d="M1240.4 605.4L1248.9 613.9L1240.4 622.4L1231.9 613.9Z" fill="#ec2227" stroke="#ec2227" stroke-width="2" stroke-linejoin="round"/>
<path d="M1254.2 436.2L1262.7 444.7L1254.2 453.2L1245.7 444.7Z" fill="#ec2227" stroke="#ec2227" stroke-width="2" stroke-linejoin="round"/>
<path d="M1268.1 445.9L1276.6 454.4L1268.1 462.9L1259.6 454.4Z" fill="#ec2227" stroke="#ec2227" stroke-width="2" stroke-linejoin="round"/>
<path d="M1281.9 447.1L1290.4 455.6L1281.9 464.1L1273.4 455.6Z" fill="#ec2227" stroke="#ec2227" stroke-width="2" stroke-linejoin="round"/>
<path d="M1295.8 449.5L1304.3 458.0L1295.8 466.5L1287.3 458.0Z" fill="#ec2227" stroke="#ec2227" stroke-width="2" stroke-linejoin="round"/>
<path d="M1309.6 477.3L1318.1 485.8L1309.6 494.3L1301.1 485.8Z" fill="#ec2227" stroke="#ec2227" stroke-width="2" stroke-linejoin="round"/>
<path d="M1323.4 453.1L1331.9 461.6L1323.4 470.1L1314.9 461.6Z" fill="#ec2227" stroke="#ec2227" stroke-width="2" stroke-linejoin="round"/>
<path d="M1337.3 503.9L1345.8 512.4L1337.3 520.9L1328.8 512.4Z" fill="#ec2227" stroke="#ec2227" stroke-width="2" stroke-linejoin="round"/>
<path d="M1351.1 485.7L1359.6 494.2L1351.1 502.7L1342.6 494.2Z" fill="#ec2227" stroke="#ec2227" stroke-width="2" stroke-linejoin="round"/>
<path d="M1365.0 479.7L1373.5 488.2L1365.0 496.7L1356.5 488.2Z" fill="#ec2227" stroke="#ec2227" stroke-width="2" stroke-linejoin="round"/>
<path d="M1378.8 496.6L1387.3 505.1L1378.8 513.6L1370.3 505.1Z" fill="#ec2227" stroke="#ec2227" stroke-width="2" stroke-linejoin="round"/>
<path d="M1392.6 441.0L1401.1 449.5L1392.6 458.0L1384.1 449.5Z" fill="#ec2227" stroke="#ec2227" stroke-width="2" stroke-linejoin="round"/>
<path d="M1406.5 506.3L1415.0 514.8L1406.5 523.3L1398.0 514.8Z" fill="#ec2227" stroke="#ec2227" stroke-width="2" stroke-linejoin="round"/>
<path d="M1420.3 517.2L1428.8 525.7L1420.3 534.2L1411.8 525.7Z" fill="#ec2227" stroke="#ec2227" stroke-width="2" stroke-linejoin="round"/>
<path d="M1434.2 543.7L1442.7 552.2L1434.2 560.7L1425.7 552.2Z" fill="#ec2227" stroke="#ec2227" stroke-width="2" stroke-linejoin="round"/>
<path d="M1448.0 549.8L1456.5 558.3L1448.0 566.8L1439.5 558.3Z" fill="#ec2227" stroke="#ec2227" stroke-width="2" stroke-linejoin="round"/>
<path d="M1461.8 570.3L1470.3 578.8L1461.8 587.3L1453.3 578.8Z" fill="#ec2227" stroke="#ec2227" stroke-width="2" stroke-linejoin="round"/>
<path d="M1475.7 557.0L1484.2 565.5L1475.7 574.0L1467.2 565.5Z" fill="#ec2227" stroke="#ec2227" stroke-width="2" stroke-linejoin="round"/>
<path d="M1489.5 575.2L1498.0 583.7L1489.5 592.2L1481.0 583.7Z" fill="#ec2227" stroke="#ec2227" stroke-width="2" stroke-linejoin="round"/>
<path d="M1503.4 633.2L1511.9 641.7L1503.4 650.2L1494.9 641.7Z" fill="#ec2227" stroke="#ec2227" stroke-width="2" stroke-linejoin="round"/>
<path d="M969.9 536.6 A3.3 3.3 0 0 1 976.5 535.9 L1172.6 830 L1180 830 L1180 961 L1172.6 961 Z" fill="#eeeb48"/>
<rect x="1175.8" y="808" width="466.1" height="474.8" fill="#fff" stroke="#eeeb48" stroke-width="6.5" stroke-linejoin="round"/>
<line x1="1238.7" y1="836.7" x2="1238.7" y2="1223.7" stroke="#231f20" stroke-width="2.2" stroke-linecap="butt"/>
<line x1="1228" y1="1223.7" x2="1621.6999999999998" y2="1223.7" stroke="#231f20" stroke-width="2.2" stroke-linecap="butt"/>
<line x1="1228" y1="836.7" x2="1238.7" y2="836.7" stroke="#231f20" stroke-width="2.2" stroke-linecap="butt"/>
<line x1="1228" y1="1030.2" x2="1238.7" y2="1030.2" stroke="#231f20" stroke-width="2.2" stroke-linecap="butt"/>
<line x1="1238.7" y1="1223.7" x2="1238.7" y2="1233.8" stroke="#231f20" stroke-width="2.2" stroke-linecap="butt"/>
<line x1="1334.175" y1="1223.7" x2="1334.175" y2="1233.8" stroke="#231f20" stroke-width="2.2" stroke-linecap="butt"/>
<line x1="1429.65" y1="1223.7" x2="1429.65" y2="1233.8" stroke="#231f20" stroke-width="2.2" stroke-linecap="butt"/>
<line x1="1525.125" y1="1223.7" x2="1525.125" y2="1233.8" stroke="#231f20" stroke-width="2.2" stroke-linecap="butt"/>
<line x1="1620.6" y1="1223.7" x2="1620.6" y2="1233.8" stroke="#231f20" stroke-width="2.2" stroke-linecap="butt"/>
<text x="1208" y="848.2" font-size="36" text-anchor="end" >9</text>
<text x="1208" y="1041.7" font-size="36" text-anchor="end" >8</text>
<text x="1208" y="1235.2" font-size="36" text-anchor="end" >7</text>
<text x="1238.7" y="1277" font-size="36" text-anchor="middle" >0</text>
<text x="1334.175" y="1277" font-size="36" text-anchor="middle" >6</text>
<text x="1429.65" y="1277" font-size="36" text-anchor="middle" >12</text>
<text x="1525.125" y="1277" font-size="36" text-anchor="middle" >18</text>
<text x="1620.6" y="1277" font-size="36" text-anchor="middle" >24</text>
<line x1="1270.7833333333333" y1="860.2" x2="1270.7833333333333" y2="885.0" stroke="#231f20" stroke-width="2.6" stroke-linecap="butt"/>
<line x1="1263.7833333333333" y1="860.2" x2="1277.7833333333333" y2="860.2" stroke="#231f20" stroke-width="2.6" stroke-linecap="butt"/>
<line x1="1263.7833333333333" y1="885.0" x2="1277.7833333333333" y2="885.0" stroke="#231f20" stroke-width="2.6" stroke-linecap="butt"/>
<line x1="1302.5666666666666" y1="895.7" x2="1302.5666666666666" y2="913.3" stroke="#231f20" stroke-width="2.6" stroke-linecap="butt"/>
<line x1="1295.5666666666666" y1="895.7" x2="1309.5666666666666" y2="895.7" stroke="#231f20" stroke-width="2.6" stroke-linecap="butt"/>
<line x1="1295.5666666666666" y1="913.3" x2="1309.5666666666666" y2="913.3" stroke="#231f20" stroke-width="2.6" stroke-linecap="butt"/>
<line x1="1366.1333333333334" y1="923.3" x2="1366.1333333333334" y2="937.3" stroke="#231f20" stroke-width="2.6" stroke-linecap="butt"/>
<line x1="1359.1333333333334" y1="923.3" x2="1373.1333333333334" y2="923.3" stroke="#231f20" stroke-width="2.6" stroke-linecap="butt"/>
<line x1="1359.1333333333334" y1="937.3" x2="1373.1333333333334" y2="937.3" stroke="#231f20" stroke-width="2.6" stroke-linecap="butt"/>
<path d="M1239.0 1083.0C1244.3 1035.3 1249.6 970.5 1254.9 940.0C1260.2 909.5 1265.5 872.6 1270.8 872.6C1281.4 872.6 1292.0 898.1 1302.6 904.5C1323.8 917.4 1344.9 930.3 1366.1 930.3C1408.5 930.3 1450.9 924.9 1493.3 924.9C1535.6 924.9 1578.0 936.5 1620.4 942.3" fill="none" stroke="#231f20" stroke-width="7.7" stroke-linejoin="round" stroke-linecap="round"/>
<path d="M1239.0 1074.5L1247.5 1083.0L1239.0 1091.5L1230.5 1083.0Z" fill="#231f20" stroke="#231f20" stroke-width="2" stroke-linejoin="round"/>
<path d="M1254.9 931.5L1263.4 940.0L1254.9 948.5L1246.4 940.0Z" fill="#231f20" stroke="#231f20" stroke-width="2" stroke-linejoin="round"/>
<path d="M1270.8 864.1L1279.3 872.6L1270.8 881.1L1262.3 872.6Z" fill="#231f20" stroke="#231f20" stroke-width="2" stroke-linejoin="round"/>
<path d="M1302.6 896.0L1311.1 904.5L1302.6 913.0L1294.1 904.5Z" fill="#231f20" stroke="#231f20" stroke-width="2" stroke-linejoin="round"/>
<path d="M1366.1 921.8L1374.6 930.3L1366.1 938.8L1357.6 930.3Z" fill="#231f20" stroke="#231f20" stroke-width="2" stroke-linejoin="round"/>
<path d="M1493.3 916.4L1501.8 924.9L1493.3 933.4L1484.8 924.9Z" fill="#231f20" stroke="#231f20" stroke-width="2" stroke-linejoin="round"/>
<path d="M1620.4 933.8L1628.9 942.3L1620.4 950.8L1611.9 942.3Z" fill="#231f20" stroke="#231f20" stroke-width="2" stroke-linejoin="round"/>
<line x1="1302.5666666666666" y1="856.3" x2="1302.5666666666666" y2="870.3" stroke="#87888b" stroke-width="2.6" stroke-linecap="butt"/>
<line x1="1295.5666666666666" y1="856.3" x2="1309.5666666666666" y2="856.3" stroke="#87888b" stroke-width="2.6" stroke-linecap="butt"/>
<line x1="1295.5666666666666" y1="870.3" x2="1309.5666666666666" y2="870.3" stroke="#87888b" stroke-width="2.6" stroke-linecap="butt"/>
<line x1="1254.8916666666667" y1="876.9" x2="1254.8916666666667" y2="888.9" stroke="#87888b" stroke-width="2.6" stroke-linecap="butt"/>
<line x1="1247.8916666666667" y1="876.9" x2="1261.8916666666667" y2="876.9" stroke="#87888b" stroke-width="2.6" stroke-linecap="butt"/>
<line x1="1247.8916666666667" y1="888.9" x2="1261.8916666666667" y2="888.9" stroke="#87888b" stroke-width="2.6" stroke-linecap="butt"/>
<path d="M1239.0 1083.0C1244.3 1016.3 1249.6 907.1 1254.9 882.9C1260.2 858.7 1265.5 838.6 1270.8 838.6C1281.4 838.6 1292.0 855.7 1302.6 863.3C1323.8 878.4 1344.9 900.8 1366.1 904.5C1408.5 912.0 1450.9 915.4 1493.3 916.2C1535.6 917.0 1578.0 917.1 1620.4 917.6" fill="none" stroke="#87888b" stroke-width="7.7" stroke-linejoin="round" stroke-linecap="round"/>
<path d="M1239.0 1074.5L1247.5 1083.0L1239.0 1091.5L1230.5 1083.0Z" fill="#87888b" stroke="#87888b" stroke-width="2" stroke-linejoin="round"/>
<path d="M1254.9 874.4L1263.4 882.9L1254.9 891.4L1246.4 882.9Z" fill="#87888b" stroke="#87888b" stroke-width="2" stroke-linejoin="round"/>
<path d="M1270.8 830.1L1279.3 838.6L1270.8 847.1L1262.3 838.6Z" fill="#87888b" stroke="#87888b" stroke-width="2" stroke-linejoin="round"/>
<path d="M1302.6 854.8L1311.1 863.3L1302.6 871.8L1294.1 863.3Z" fill="#87888b" stroke="#87888b" stroke-width="2" stroke-linejoin="round"/>
<path d="M1366.1 896.0L1374.6 904.5L1366.1 913.0L1357.6 904.5Z" fill="#87888b" stroke="#87888b" stroke-width="2" stroke-linejoin="round"/>
<path d="M1493.3 907.7L1501.8 916.2L1493.3 924.7L1484.8 916.2Z" fill="#87888b" stroke="#87888b" stroke-width="2" stroke-linejoin="round"/>
<path d="M1620.4 909.1L1628.9 917.6L1620.4 926.1L1611.9 917.6Z" fill="#87888b" stroke="#87888b" stroke-width="2" stroke-linejoin="round"/>
<line x1="1254.8916666666667" y1="967.6" x2="1254.8916666666667" y2="979.6" stroke="#1f70b8" stroke-width="2.6" stroke-linecap="butt"/>
<line x1="1247.8916666666667" y1="967.6" x2="1261.8916666666667" y2="967.6" stroke="#1f70b8" stroke-width="2.6" stroke-linecap="butt"/>
<line x1="1247.8916666666667" y1="979.6" x2="1261.8916666666667" y2="979.6" stroke="#1f70b8" stroke-width="2.6" stroke-linecap="butt"/>
<line x1="1270.7833333333333" y1="928.8000000000001" x2="1270.7833333333333" y2="948.4" stroke="#1f70b8" stroke-width="2.6" stroke-linecap="butt"/>
<line x1="1263.7833333333333" y1="928.8000000000001" x2="1277.7833333333333" y2="928.8000000000001" stroke="#1f70b8" stroke-width="2.6" stroke-linecap="butt"/>
<line x1="1263.7833333333333" y1="948.4" x2="1277.7833333333333" y2="948.4" stroke="#1f70b8" stroke-width="2.6" stroke-linecap="butt"/>
<line x1="1493.2666666666667" y1="938.2" x2="1493.2666666666667" y2="957.2" stroke="#1f70b8" stroke-width="2.6" stroke-linecap="butt"/>
<line x1="1486.2666666666667" y1="938.2" x2="1500.2666666666667" y2="938.2" stroke="#1f70b8" stroke-width="2.6" stroke-linecap="butt"/>
<line x1="1486.2666666666667" y1="957.2" x2="1500.2666666666667" y2="957.2" stroke="#1f70b8" stroke-width="2.6" stroke-linecap="butt"/>
<path d="M1239.0 1100.4C1244.3 1058.1 1249.6 991.9 1254.9 973.6C1260.2 955.3 1265.5 938.6 1270.8 938.6C1281.4 938.6 1292.0 953.1 1302.6 954.0C1323.8 955.7 1344.9 956.5 1366.1 956.5C1408.5 956.5 1450.9 947.7 1493.3 947.7C1535.6 947.7 1578.0 963.4 1620.4 971.3" fill="none" stroke="#1f70b8" stroke-width="7.7" stroke-linejoin="round" stroke-linecap="round"/>
<path d="M1239.0 1091.9L1247.5 1100.4L1239.0 1108.9L1230.5 1100.4Z" fill="#1f70b8" stroke="#1f70b8" stroke-width="2" stroke-linejoin="round"/>
<path d="M1254.9 965.1L1263.4 973.6L1254.9 982.1L1246.4 973.6Z" fill="#1f70b8" stroke="#1f70b8" stroke-width="2" stroke-linejoin="round"/>
<path d="M1270.8 930.1L1279.3 938.6L1270.8 947.1L1262.3 938.6Z" fill="#1f70b8" stroke="#1f70b8" stroke-width="2" stroke-linejoin="round"/>
<path d="M1302.6 945.5L1311.1 954.0L1302.6 962.5L1294.1 954.0Z" fill="#1f70b8" stroke="#1f70b8" stroke-width="2" stroke-linejoin="round"/>
<path d="M1366.1 948.0L1374.6 956.5L1366.1 965.0L1357.6 956.5Z" fill="#1f70b8" stroke="#1f70b8" stroke-width="2" stroke-linejoin="round"/>
<path d="M1493.3 939.2L1501.8 947.7L1493.3 956.2L1484.8 947.7Z" fill="#1f70b8" stroke="#1f70b8" stroke-width="2" stroke-linejoin="round"/>
<path d="M1620.4 962.8L1628.9 971.3L1620.4 979.8L1611.9 971.3Z" fill="#1f70b8" stroke="#1f70b8" stroke-width="2" stroke-linejoin="round"/>
<path d="M1239.0 1082.9C1244.3 1025.9 1249.6 914.5 1254.9 911.8C1260.2 909.1 1265.5 907.6 1270.8 907.6C1281.4 907.6 1292.0 936.9 1302.6 941.6C1323.8 951.1 1344.9 955.8 1366.1 958.1C1408.5 962.6 1450.9 965.9 1493.3 965.9C1535.6 965.9 1578.0 965.9 1620.4 965.9" fill="none" stroke="#ec2227" stroke-width="7.7" stroke-linejoin="round" stroke-linecap="round"/>
<path d="M1239.0 1074.4L1247.5 1082.9L1239.0 1091.4L1230.5 1082.9Z" fill="#ec2227" stroke="#ec2227" stroke-width="2" stroke-linejoin="round"/>
<path d="M1254.9 903.3L1263.4 911.8L1254.9 920.3L1246.4 911.8Z" fill="#ec2227" stroke="#ec2227" stroke-width="2" stroke-linejoin="round"/>
<path d="M1270.8 899.1L1279.3 907.6L1270.8 916.1L1262.3 907.6Z" fill="#ec2227" stroke="#ec2227" stroke-width="2" stroke-linejoin="round"/>
<path d="M1302.6 933.1L1311.1 941.6L1302.6 950.1L1294.1 941.6Z" fill="#ec2227" stroke="#ec2227" stroke-width="2" stroke-linejoin="round"/>
<path d="M1366.1 949.6L1374.6 958.1L1366.1 966.6L1357.6 958.1Z" fill="#ec2227" stroke="#ec2227" stroke-width="2" stroke-linejoin="round"/>
<path d="M1493.3 957.4L1501.8 965.9L1493.3 974.4L1484.8 965.9Z" fill="#ec2227" stroke="#ec2227" stroke-width="2" stroke-linejoin="round"/>
<path d="M1620.4 957.4L1628.9 965.9L1620.4 974.4L1611.9 965.9Z" fill="#ec2227" stroke="#ec2227" stroke-width="2" stroke-linejoin="round"/>
</svg></body></html>
